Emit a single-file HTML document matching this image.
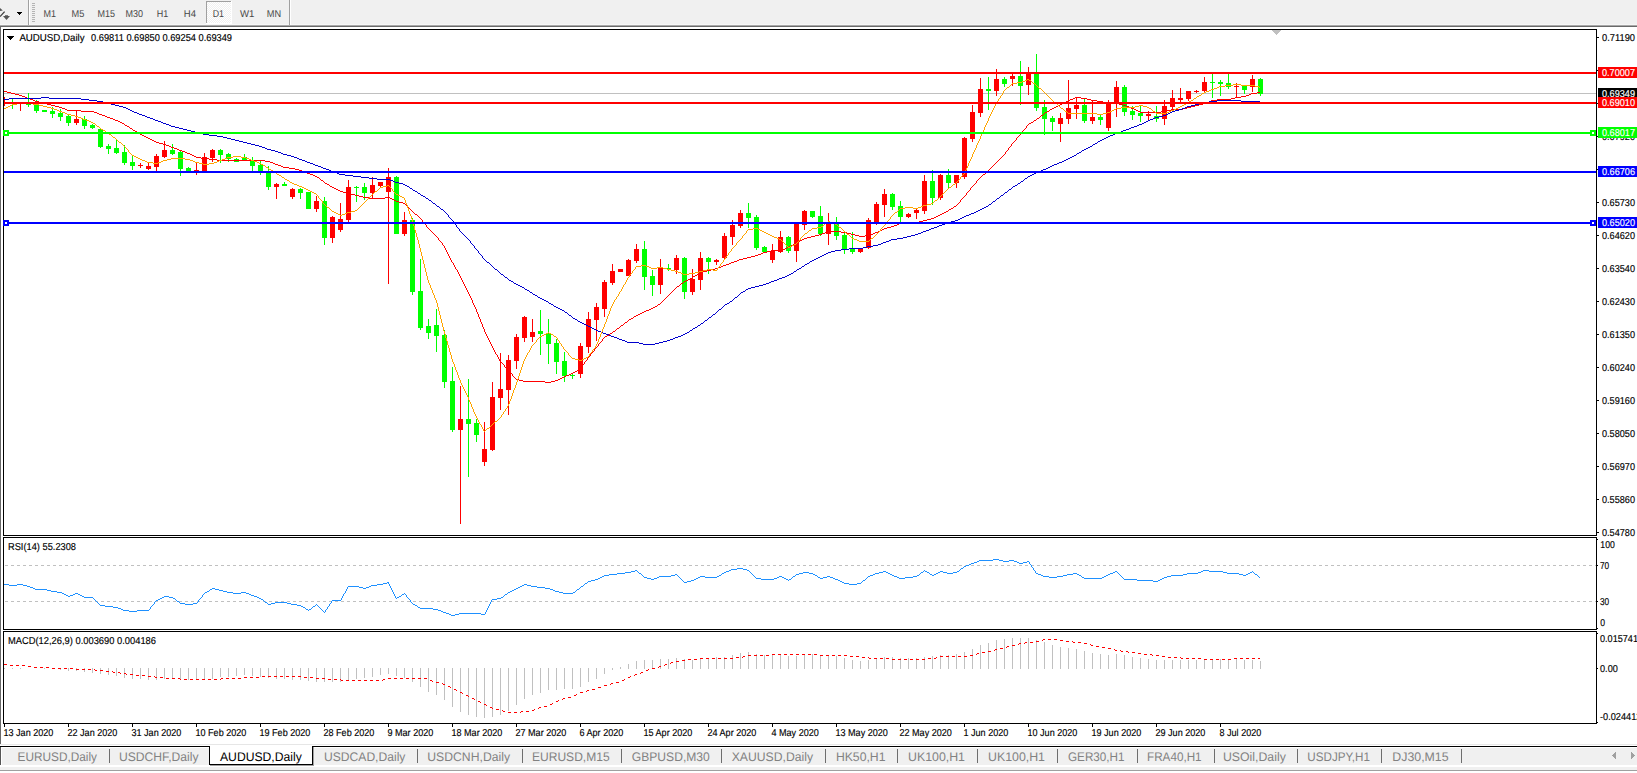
<!DOCTYPE html>
<html><head><meta charset="utf-8"><title>AUDUSD,Daily</title>
<style>html,body{margin:0;padding:0;background:#fff;overflow:hidden}body{width:1637px;height:773px;font-family:"Liberation Sans",sans-serif}svg{display:block}</style></head>
<body>
<svg width="1637" height="773" viewBox="0 0 1637 773" shape-rendering="crispEdges" font-family="'Liberation Sans', sans-serif" text-rendering="geometricPrecision"><defs><clipPath id="cm"><rect x="4" y="30" width="1592" height="505"/></clipPath><pattern id="dz" x="0" y="0" width="2" height="2" patternUnits="userSpaceOnUse"><rect width="2" height="2" fill="#f0f0f0"/><rect x="0" y="0" width="1" height="1" fill="#fff"/><rect x="1" y="1" width="1" height="1" fill="#fff"/></pattern></defs><rect x="0" y="0" width="1637" height="773" fill="#ffffff"/>
<rect x="0" y="0" width="1637" height="25" fill="#f0f0f0"/>
<rect x="0" y="24" width="1637" height="1" fill="#f6f6f6"/>
<rect x="0" y="25" width="1637" height="1" fill="#a8a8a8"/>
<rect x="0" y="26" width="1637" height="1" fill="#696969"/>
<rect x="0" y="27" width="1" height="717" fill="#696969"/>
<rect x="28" y="0" width="1" height="25" fill="#a0a0a0"/>
<rect x="29" y="0" width="1" height="25" fill="#ffffff"/>
<rect x="289" y="0" width="1" height="25" fill="#a0a0a0"/>
<rect x="290" y="0" width="1" height="25" fill="#ffffff"/>
<rect x="32" y="3" width="3" height="1" fill="#b4b4b4"/>
<rect x="32" y="5" width="3" height="1" fill="#b4b4b4"/>
<rect x="32" y="7" width="3" height="1" fill="#b4b4b4"/>
<rect x="32" y="9" width="3" height="1" fill="#b4b4b4"/>
<rect x="32" y="11" width="3" height="1" fill="#b4b4b4"/>
<rect x="32" y="13" width="3" height="1" fill="#b4b4b4"/>
<rect x="32" y="15" width="3" height="1" fill="#b4b4b4"/>
<rect x="32" y="17" width="3" height="1" fill="#b4b4b4"/>
<rect x="32" y="19" width="3" height="1" fill="#b4b4b4"/>
<rect x="32" y="21" width="3" height="1" fill="#b4b4b4"/>
<rect x="17" y="12" width="5" height="1" fill="#000"/>
<rect x="18" y="13" width="3" height="1" fill="#000"/>
<rect x="19" y="14" width="1" height="1" fill="#000"/>
<g shape-rendering="geometricPrecision"><path d="M0 16.6 L4.6 11.6" stroke="#3c3c3c" stroke-width="1.3" fill="none"/><path d="M0 8 L2.8 10.6 L0 10.9 Z" fill="#555"/><path d="M5 15.2 L8 15.2 L8 16 L10 16 L6.5 20 L3 16 L5 16 Z" fill="#555"/></g>
<rect x="207" y="2" width="24" height="21" fill="url(#dz)"/>
<rect x="206" y="1" width="25" height="1" fill="#a0a0a0"/>
<rect x="206" y="1" width="1" height="22" fill="#a0a0a0"/>
<rect x="231" y="1" width="1" height="23" fill="#ffffff"/>
<rect x="206" y="23" width="26" height="1" fill="#ffffff"/>
<g opacity="0.86">
<text x="43.4" y="17" font-size="10" fill="#2a2a2a" textLength="12.5" lengthAdjust="spacingAndGlyphs">M1</text>
<text x="71.5" y="17" font-size="10" fill="#2a2a2a" textLength="12.8" lengthAdjust="spacingAndGlyphs">M5</text>
<text x="97.5" y="17" font-size="10" fill="#2a2a2a" textLength="17.5" lengthAdjust="spacingAndGlyphs">M15</text>
<text x="125.5" y="17" font-size="10" fill="#2a2a2a" textLength="17.5" lengthAdjust="spacingAndGlyphs">M30</text>
<text x="156.7" y="17" font-size="10" fill="#2a2a2a" textLength="11.5" lengthAdjust="spacingAndGlyphs">H1</text>
<text x="183.8" y="17" font-size="10" fill="#2a2a2a" textLength="12.2" lengthAdjust="spacingAndGlyphs">H4</text>
<text x="212.7" y="17" font-size="10" fill="#2a2a2a" textLength="11.3" lengthAdjust="spacingAndGlyphs">D1</text>
<text x="239.9" y="17" font-size="10" fill="#2a2a2a" textLength="14.4" lengthAdjust="spacingAndGlyphs">W1</text>
<text x="266.8" y="17" font-size="10" fill="#2a2a2a" textLength="14.3" lengthAdjust="spacingAndGlyphs">MN</text>
</g>
<rect x="3" y="29" width="1594" height="1" fill="#000"/>
<rect x="3" y="535" width="1594" height="1" fill="#000"/>
<rect x="3" y="29" width="1" height="507" fill="#000"/>
<rect x="1596" y="29" width="1" height="507" fill="#000"/>
<rect x="3" y="537" width="1594" height="1" fill="#000"/>
<rect x="3" y="629" width="1594" height="1" fill="#000"/>
<rect x="3" y="537" width="1" height="93" fill="#000"/>
<rect x="1596" y="537" width="1" height="93" fill="#000"/>
<rect x="3" y="631" width="1594" height="1" fill="#000"/>
<rect x="3" y="723" width="1594" height="1" fill="#000"/>
<rect x="3" y="631" width="1" height="93" fill="#000"/>
<rect x="1596" y="631" width="1" height="93" fill="#000"/>
<g clip-path="url(#cm)">
<rect x="4" y="93" width="1592" height="1" fill="#c0c0c0"/>
<rect x="4" y="97" width="1" height="9" fill="#ff0000"/>
<rect x="12" y="98" width="1" height="11" fill="#00ff00"/>
<rect x="10" y="102" width="5" height="2" fill="#00ff00"/>
<rect x="20" y="103" width="1" height="8" fill="#ff0000"/>
<rect x="18" y="103" width="5" height="1" fill="#ff0000"/>
<rect x="28" y="93" width="1" height="14" fill="#00ff00"/>
<rect x="26" y="104" width="5" height="1" fill="#00ff00"/>
<rect x="36" y="100" width="1" height="13" fill="#00ff00"/>
<rect x="34" y="105" width="5" height="6" fill="#00ff00"/>
<rect x="44" y="110" width="1" height="2" fill="#00ff00"/>
<rect x="42" y="110" width="5" height="2" fill="#00ff00"/>
<rect x="52" y="107" width="1" height="11" fill="#00ff00"/>
<rect x="50" y="111" width="5" height="3" fill="#00ff00"/>
<rect x="60" y="109" width="1" height="12" fill="#00ff00"/>
<rect x="58" y="113" width="5" height="4" fill="#00ff00"/>
<rect x="68" y="115" width="1" height="11" fill="#00ff00"/>
<rect x="66" y="116" width="5" height="7" fill="#00ff00"/>
<rect x="76" y="110" width="1" height="15" fill="#ff0000"/>
<rect x="74" y="119" width="5" height="4" fill="#ff0000"/>
<rect x="84" y="116" width="1" height="13" fill="#00ff00"/>
<rect x="82" y="119" width="5" height="7" fill="#00ff00"/>
<rect x="92" y="124" width="1" height="5" fill="#00ff00"/>
<rect x="90" y="125" width="5" height="3" fill="#00ff00"/>
<rect x="100" y="129" width="1" height="19" fill="#00ff00"/>
<rect x="98" y="129" width="5" height="18" fill="#00ff00"/>
<rect x="108" y="144" width="1" height="10" fill="#00ff00"/>
<rect x="106" y="146" width="5" height="3" fill="#00ff00"/>
<rect x="116" y="140" width="1" height="14" fill="#00ff00"/>
<rect x="114" y="148" width="5" height="5" fill="#00ff00"/>
<rect x="124" y="145" width="1" height="20" fill="#00ff00"/>
<rect x="122" y="152" width="5" height="11" fill="#00ff00"/>
<rect x="132" y="155" width="1" height="15" fill="#00ff00"/>
<rect x="130" y="162" width="5" height="4" fill="#00ff00"/>
<rect x="140" y="163" width="1" height="5" fill="#ff0000"/>
<rect x="138" y="165" width="5" height="1" fill="#ff0000"/>
<rect x="148" y="162" width="1" height="8" fill="#ff0000"/>
<rect x="146" y="166" width="5" height="3" fill="#ff0000"/>
<rect x="156" y="154" width="1" height="17" fill="#ff0000"/>
<rect x="154" y="156" width="5" height="11" fill="#ff0000"/>
<rect x="164" y="141" width="1" height="17" fill="#ff0000"/>
<rect x="162" y="150" width="5" height="7" fill="#ff0000"/>
<rect x="172" y="144" width="1" height="11" fill="#00ff00"/>
<rect x="170" y="150" width="5" height="4" fill="#00ff00"/>
<rect x="180" y="151" width="1" height="25" fill="#00ff00"/>
<rect x="178" y="152" width="5" height="17" fill="#00ff00"/>
<rect x="188" y="167" width="1" height="6" fill="#00ff00"/>
<rect x="186" y="168" width="5" height="5" fill="#00ff00"/>
<rect x="196" y="162" width="1" height="13" fill="#ff0000"/>
<rect x="194" y="170" width="5" height="2" fill="#ff0000"/>
<rect x="204" y="153" width="1" height="19" fill="#ff0000"/>
<rect x="202" y="157" width="5" height="15" fill="#ff0000"/>
<rect x="212" y="149" width="1" height="13" fill="#ff0000"/>
<rect x="210" y="150" width="5" height="8" fill="#ff0000"/>
<rect x="220" y="149" width="1" height="14" fill="#00ff00"/>
<rect x="218" y="150" width="5" height="5" fill="#00ff00"/>
<rect x="228" y="153" width="1" height="9" fill="#00ff00"/>
<rect x="226" y="154" width="5" height="5" fill="#00ff00"/>
<rect x="236" y="158" width="1" height="4" fill="#00ff00"/>
<rect x="234" y="159" width="5" height="3" fill="#00ff00"/>
<rect x="244" y="154" width="1" height="7" fill="#00ff00"/>
<rect x="242" y="157" width="5" height="3" fill="#00ff00"/>
<rect x="252" y="157" width="1" height="14" fill="#00ff00"/>
<rect x="250" y="160" width="5" height="6" fill="#00ff00"/>
<rect x="260" y="161" width="1" height="14" fill="#00ff00"/>
<rect x="258" y="165" width="5" height="6" fill="#00ff00"/>
<rect x="268" y="166" width="1" height="24" fill="#00ff00"/>
<rect x="266" y="173" width="5" height="14" fill="#00ff00"/>
<rect x="276" y="183" width="1" height="16" fill="#ff0000"/>
<rect x="274" y="184" width="5" height="3" fill="#ff0000"/>
<rect x="284" y="182" width="1" height="4" fill="#00ff00"/>
<rect x="282" y="184" width="5" height="2" fill="#00ff00"/>
<rect x="292" y="188" width="1" height="11" fill="#ff0000"/>
<rect x="290" y="189" width="5" height="8" fill="#ff0000"/>
<rect x="300" y="188" width="1" height="11" fill="#00ff00"/>
<rect x="298" y="189" width="5" height="4" fill="#00ff00"/>
<rect x="308" y="192" width="1" height="17" fill="#00ff00"/>
<rect x="306" y="192" width="5" height="17" fill="#00ff00"/>
<rect x="316" y="196" width="1" height="16" fill="#ff0000"/>
<rect x="314" y="201" width="5" height="8" fill="#ff0000"/>
<rect x="324" y="197" width="1" height="48" fill="#00ff00"/>
<rect x="322" y="201" width="5" height="37" fill="#00ff00"/>
<rect x="332" y="216" width="1" height="27" fill="#ff0000"/>
<rect x="330" y="217" width="5" height="21" fill="#ff0000"/>
<rect x="340" y="203" width="1" height="29" fill="#ff0000"/>
<rect x="338" y="219" width="5" height="11" fill="#ff0000"/>
<rect x="348" y="180" width="1" height="42" fill="#ff0000"/>
<rect x="346" y="187" width="5" height="33" fill="#ff0000"/>
<rect x="356" y="186" width="1" height="16" fill="#00ff00"/>
<rect x="354" y="187" width="5" height="1" fill="#00ff00"/>
<rect x="364" y="183" width="1" height="17" fill="#00ff00"/>
<rect x="362" y="187" width="5" height="6" fill="#00ff00"/>
<rect x="372" y="177" width="1" height="22" fill="#ff0000"/>
<rect x="370" y="185" width="5" height="8" fill="#ff0000"/>
<rect x="380" y="182" width="1" height="6" fill="#ff0000"/>
<rect x="378" y="182" width="5" height="4" fill="#ff0000"/>
<rect x="388" y="168" width="1" height="116" fill="#ff0000"/>
<rect x="386" y="177" width="5" height="15" fill="#ff0000"/>
<rect x="396" y="176" width="1" height="58" fill="#00ff00"/>
<rect x="394" y="177" width="5" height="57" fill="#00ff00"/>
<rect x="404" y="212" width="1" height="24" fill="#ff0000"/>
<rect x="402" y="220" width="5" height="14" fill="#ff0000"/>
<rect x="412" y="218" width="1" height="77" fill="#00ff00"/>
<rect x="410" y="220" width="5" height="72" fill="#00ff00"/>
<rect x="420" y="259" width="1" height="71" fill="#00ff00"/>
<rect x="418" y="291" width="5" height="37" fill="#00ff00"/>
<rect x="428" y="319" width="1" height="20" fill="#00ff00"/>
<rect x="426" y="326" width="5" height="7" fill="#00ff00"/>
<rect x="436" y="309" width="1" height="43" fill="#00ff00"/>
<rect x="434" y="325" width="5" height="11" fill="#00ff00"/>
<rect x="444" y="330" width="1" height="58" fill="#00ff00"/>
<rect x="442" y="335" width="5" height="47" fill="#00ff00"/>
<rect x="452" y="367" width="1" height="65" fill="#00ff00"/>
<rect x="450" y="381" width="5" height="49" fill="#00ff00"/>
<rect x="460" y="386" width="1" height="138" fill="#ff0000"/>
<rect x="458" y="419" width="5" height="11" fill="#ff0000"/>
<rect x="468" y="379" width="1" height="98" fill="#00ff00"/>
<rect x="466" y="419" width="5" height="5" fill="#00ff00"/>
<rect x="476" y="419" width="1" height="23" fill="#00ff00"/>
<rect x="474" y="423" width="5" height="12" fill="#00ff00"/>
<rect x="484" y="422" width="1" height="44" fill="#ff0000"/>
<rect x="482" y="449" width="5" height="13" fill="#ff0000"/>
<rect x="492" y="382" width="1" height="69" fill="#ff0000"/>
<rect x="490" y="397" width="5" height="53" fill="#ff0000"/>
<rect x="500" y="353" width="1" height="57" fill="#ff0000"/>
<rect x="498" y="389" width="5" height="9" fill="#ff0000"/>
<rect x="508" y="355" width="1" height="60" fill="#ff0000"/>
<rect x="506" y="360" width="5" height="30" fill="#ff0000"/>
<rect x="516" y="334" width="1" height="35" fill="#ff0000"/>
<rect x="514" y="337" width="5" height="24" fill="#ff0000"/>
<rect x="524" y="316" width="1" height="26" fill="#ff0000"/>
<rect x="522" y="317" width="5" height="21" fill="#ff0000"/>
<rect x="532" y="319" width="1" height="23" fill="#ff0000"/>
<rect x="530" y="332" width="5" height="5" fill="#ff0000"/>
<rect x="540" y="310" width="1" height="45" fill="#00ff00"/>
<rect x="538" y="331" width="5" height="3" fill="#00ff00"/>
<rect x="548" y="319" width="1" height="45" fill="#00ff00"/>
<rect x="546" y="333" width="5" height="11" fill="#00ff00"/>
<rect x="556" y="339" width="1" height="35" fill="#00ff00"/>
<rect x="554" y="343" width="5" height="19" fill="#00ff00"/>
<rect x="564" y="352" width="1" height="30" fill="#00ff00"/>
<rect x="562" y="361" width="5" height="15" fill="#00ff00"/>
<rect x="572" y="374" width="1" height="5" fill="#00ff00"/>
<rect x="570" y="375" width="5" height="1" fill="#00ff00"/>
<rect x="580" y="343" width="1" height="35" fill="#ff0000"/>
<rect x="578" y="346" width="5" height="28" fill="#ff0000"/>
<rect x="588" y="312" width="1" height="41" fill="#ff0000"/>
<rect x="586" y="319" width="5" height="28" fill="#ff0000"/>
<rect x="596" y="303" width="1" height="38" fill="#ff0000"/>
<rect x="594" y="307" width="5" height="13" fill="#ff0000"/>
<rect x="604" y="280" width="1" height="37" fill="#ff0000"/>
<rect x="602" y="282" width="5" height="27" fill="#ff0000"/>
<rect x="612" y="264" width="1" height="21" fill="#ff0000"/>
<rect x="610" y="271" width="5" height="12" fill="#ff0000"/>
<rect x="620" y="269" width="1" height="3" fill="#ff0000"/>
<rect x="618" y="269" width="5" height="3" fill="#ff0000"/>
<rect x="628" y="259" width="1" height="17" fill="#ff0000"/>
<rect x="626" y="260" width="5" height="16" fill="#ff0000"/>
<rect x="636" y="244" width="1" height="19" fill="#ff0000"/>
<rect x="634" y="249" width="5" height="12" fill="#ff0000"/>
<rect x="644" y="241" width="1" height="49" fill="#00ff00"/>
<rect x="642" y="249" width="5" height="28" fill="#00ff00"/>
<rect x="652" y="270" width="1" height="26" fill="#00ff00"/>
<rect x="650" y="276" width="5" height="9" fill="#00ff00"/>
<rect x="660" y="259" width="1" height="35" fill="#ff0000"/>
<rect x="658" y="268" width="5" height="17" fill="#ff0000"/>
<rect x="668" y="264" width="1" height="7" fill="#00ff00"/>
<rect x="666" y="268" width="5" height="1" fill="#00ff00"/>
<rect x="676" y="255" width="1" height="19" fill="#ff0000"/>
<rect x="674" y="258" width="5" height="12" fill="#ff0000"/>
<rect x="684" y="257" width="1" height="42" fill="#00ff00"/>
<rect x="682" y="258" width="5" height="34" fill="#00ff00"/>
<rect x="692" y="269" width="1" height="26" fill="#ff0000"/>
<rect x="690" y="279" width="5" height="13" fill="#ff0000"/>
<rect x="700" y="252" width="1" height="38" fill="#ff0000"/>
<rect x="698" y="258" width="5" height="22" fill="#ff0000"/>
<rect x="708" y="257" width="1" height="17" fill="#00ff00"/>
<rect x="706" y="258" width="5" height="4" fill="#00ff00"/>
<rect x="716" y="259" width="1" height="6" fill="#ff0000"/>
<rect x="714" y="260" width="5" height="2" fill="#ff0000"/>
<rect x="724" y="233" width="1" height="26" fill="#ff0000"/>
<rect x="722" y="236" width="5" height="22" fill="#ff0000"/>
<rect x="732" y="220" width="1" height="25" fill="#ff0000"/>
<rect x="730" y="225" width="5" height="12" fill="#ff0000"/>
<rect x="740" y="210" width="1" height="18" fill="#ff0000"/>
<rect x="738" y="213" width="5" height="13" fill="#ff0000"/>
<rect x="748" y="203" width="1" height="25" fill="#00ff00"/>
<rect x="746" y="213" width="5" height="5" fill="#00ff00"/>
<rect x="756" y="215" width="1" height="35" fill="#00ff00"/>
<rect x="754" y="217" width="5" height="31" fill="#00ff00"/>
<rect x="764" y="246" width="1" height="6" fill="#00ff00"/>
<rect x="762" y="247" width="5" height="5" fill="#00ff00"/>
<rect x="772" y="244" width="1" height="19" fill="#ff0000"/>
<rect x="770" y="251" width="5" height="9" fill="#ff0000"/>
<rect x="780" y="231" width="1" height="22" fill="#ff0000"/>
<rect x="778" y="237" width="5" height="15" fill="#ff0000"/>
<rect x="788" y="236" width="1" height="17" fill="#00ff00"/>
<rect x="786" y="237" width="5" height="14" fill="#00ff00"/>
<rect x="796" y="223" width="1" height="39" fill="#ff0000"/>
<rect x="794" y="224" width="5" height="27" fill="#ff0000"/>
<rect x="804" y="210" width="1" height="20" fill="#ff0000"/>
<rect x="802" y="211" width="5" height="14" fill="#ff0000"/>
<rect x="812" y="211" width="1" height="7" fill="#00ff00"/>
<rect x="810" y="211" width="5" height="6" fill="#00ff00"/>
<rect x="820" y="206" width="1" height="30" fill="#00ff00"/>
<rect x="818" y="216" width="5" height="18" fill="#00ff00"/>
<rect x="828" y="213" width="1" height="32" fill="#ff0000"/>
<rect x="826" y="224" width="5" height="10" fill="#ff0000"/>
<rect x="836" y="217" width="1" height="23" fill="#00ff00"/>
<rect x="834" y="224" width="5" height="12" fill="#00ff00"/>
<rect x="844" y="233" width="1" height="21" fill="#00ff00"/>
<rect x="842" y="235" width="5" height="14" fill="#00ff00"/>
<rect x="852" y="232" width="1" height="22" fill="#00ff00"/>
<rect x="850" y="249" width="5" height="3" fill="#00ff00"/>
<rect x="860" y="248" width="1" height="5" fill="#ff0000"/>
<rect x="858" y="249" width="5" height="3" fill="#ff0000"/>
<rect x="868" y="218" width="1" height="31" fill="#ff0000"/>
<rect x="866" y="220" width="5" height="28" fill="#ff0000"/>
<rect x="876" y="202" width="1" height="23" fill="#ff0000"/>
<rect x="874" y="204" width="5" height="18" fill="#ff0000"/>
<rect x="884" y="189" width="1" height="28" fill="#ff0000"/>
<rect x="882" y="194" width="5" height="11" fill="#ff0000"/>
<rect x="892" y="193" width="1" height="17" fill="#00ff00"/>
<rect x="890" y="194" width="5" height="13" fill="#00ff00"/>
<rect x="900" y="201" width="1" height="21" fill="#00ff00"/>
<rect x="898" y="206" width="5" height="11" fill="#00ff00"/>
<rect x="908" y="213" width="1" height="5" fill="#ff0000"/>
<rect x="906" y="214" width="5" height="3" fill="#ff0000"/>
<rect x="916" y="209" width="1" height="10" fill="#ff0000"/>
<rect x="914" y="210" width="5" height="3" fill="#ff0000"/>
<rect x="924" y="175" width="1" height="39" fill="#ff0000"/>
<rect x="922" y="181" width="5" height="30" fill="#ff0000"/>
<rect x="932" y="170" width="1" height="35" fill="#00ff00"/>
<rect x="930" y="181" width="5" height="17" fill="#00ff00"/>
<rect x="940" y="174" width="1" height="26" fill="#ff0000"/>
<rect x="938" y="175" width="5" height="23" fill="#ff0000"/>
<rect x="948" y="169" width="1" height="20" fill="#00ff00"/>
<rect x="946" y="175" width="5" height="8" fill="#00ff00"/>
<rect x="956" y="175" width="1" height="13" fill="#ff0000"/>
<rect x="954" y="175" width="5" height="8" fill="#ff0000"/>
<rect x="964" y="137" width="1" height="42" fill="#ff0000"/>
<rect x="962" y="138" width="5" height="39" fill="#ff0000"/>
<rect x="972" y="105" width="1" height="37" fill="#ff0000"/>
<rect x="970" y="112" width="5" height="27" fill="#ff0000"/>
<rect x="980" y="78" width="1" height="39" fill="#ff0000"/>
<rect x="978" y="89" width="5" height="24" fill="#ff0000"/>
<rect x="988" y="77" width="1" height="33" fill="#00ff00"/>
<rect x="986" y="89" width="5" height="2" fill="#00ff00"/>
<rect x="996" y="69" width="1" height="27" fill="#ff0000"/>
<rect x="994" y="79" width="5" height="12" fill="#ff0000"/>
<rect x="1004" y="77" width="1" height="10" fill="#00ff00"/>
<rect x="1002" y="79" width="5" height="5" fill="#00ff00"/>
<rect x="1012" y="74" width="1" height="12" fill="#ff0000"/>
<rect x="1010" y="76" width="5" height="3" fill="#ff0000"/>
<rect x="1020" y="61" width="1" height="44" fill="#00ff00"/>
<rect x="1018" y="76" width="5" height="10" fill="#00ff00"/>
<rect x="1028" y="67" width="1" height="28" fill="#ff0000"/>
<rect x="1026" y="74" width="5" height="11" fill="#ff0000"/>
<rect x="1036" y="54" width="1" height="57" fill="#00ff00"/>
<rect x="1034" y="74" width="5" height="34" fill="#00ff00"/>
<rect x="1044" y="100" width="1" height="35" fill="#00ff00"/>
<rect x="1042" y="107" width="5" height="12" fill="#00ff00"/>
<rect x="1052" y="116" width="1" height="15" fill="#00ff00"/>
<rect x="1050" y="118" width="5" height="4" fill="#00ff00"/>
<rect x="1060" y="113" width="1" height="29" fill="#ff0000"/>
<rect x="1058" y="118" width="5" height="6" fill="#ff0000"/>
<rect x="1068" y="80" width="1" height="44" fill="#ff0000"/>
<rect x="1066" y="108" width="5" height="11" fill="#ff0000"/>
<rect x="1076" y="97" width="1" height="22" fill="#ff0000"/>
<rect x="1074" y="105" width="5" height="4" fill="#ff0000"/>
<rect x="1084" y="99" width="1" height="24" fill="#00ff00"/>
<rect x="1082" y="105" width="5" height="16" fill="#00ff00"/>
<rect x="1092" y="100" width="1" height="24" fill="#ff0000"/>
<rect x="1090" y="117" width="5" height="4" fill="#ff0000"/>
<rect x="1100" y="115" width="1" height="10" fill="#00ff00"/>
<rect x="1098" y="117" width="5" height="3" fill="#00ff00"/>
<rect x="1108" y="100" width="1" height="31" fill="#ff0000"/>
<rect x="1106" y="102" width="5" height="26" fill="#ff0000"/>
<rect x="1116" y="81" width="1" height="36" fill="#ff0000"/>
<rect x="1114" y="87" width="5" height="16" fill="#ff0000"/>
<rect x="1124" y="85" width="1" height="31" fill="#00ff00"/>
<rect x="1122" y="87" width="5" height="25" fill="#00ff00"/>
<rect x="1132" y="106" width="1" height="14" fill="#00ff00"/>
<rect x="1130" y="111" width="5" height="4" fill="#00ff00"/>
<rect x="1140" y="105" width="1" height="17" fill="#00ff00"/>
<rect x="1138" y="113" width="5" height="3" fill="#00ff00"/>
<rect x="1148" y="111" width="1" height="9" fill="#ff0000"/>
<rect x="1146" y="114" width="5" height="2" fill="#ff0000"/>
<rect x="1156" y="106" width="1" height="16" fill="#00ff00"/>
<rect x="1154" y="116" width="5" height="3" fill="#00ff00"/>
<rect x="1164" y="100" width="1" height="25" fill="#ff0000"/>
<rect x="1162" y="106" width="5" height="13" fill="#ff0000"/>
<rect x="1172" y="90" width="1" height="20" fill="#ff0000"/>
<rect x="1170" y="98" width="5" height="9" fill="#ff0000"/>
<rect x="1180" y="88" width="1" height="14" fill="#ff0000"/>
<rect x="1178" y="98" width="5" height="2" fill="#ff0000"/>
<rect x="1188" y="91" width="1" height="10" fill="#ff0000"/>
<rect x="1186" y="91" width="5" height="8" fill="#ff0000"/>
<rect x="1196" y="90" width="1" height="3" fill="#ff0000"/>
<rect x="1194" y="91" width="5" height="1" fill="#ff0000"/>
<rect x="1204" y="77" width="1" height="15" fill="#ff0000"/>
<rect x="1202" y="82" width="5" height="9" fill="#ff0000"/>
<rect x="1212" y="74" width="1" height="24" fill="#00ff00"/>
<rect x="1210" y="82" width="5" height="1" fill="#00ff00"/>
<rect x="1220" y="80" width="1" height="16" fill="#00ff00"/>
<rect x="1218" y="82" width="5" height="2" fill="#00ff00"/>
<rect x="1228" y="74" width="1" height="15" fill="#00ff00"/>
<rect x="1226" y="83" width="5" height="4" fill="#00ff00"/>
<rect x="1236" y="83" width="1" height="15" fill="#ff0000"/>
<rect x="1234" y="86" width="5" height="1" fill="#ff0000"/>
<rect x="1244" y="86" width="1" height="8" fill="#00ff00"/>
<rect x="1242" y="86" width="5" height="4" fill="#00ff00"/>
<rect x="1252" y="75" width="1" height="17" fill="#ff0000"/>
<rect x="1250" y="79" width="5" height="8" fill="#ff0000"/>
<rect x="1260" y="78" width="1" height="18" fill="#00ff00"/>
<rect x="1258" y="79" width="5" height="15" fill="#00ff00"/>
<path d="M4 91h3v1h-3zM7 92h4v1h-4zM1257 92h3v1h-3zM11 93h4v1h-4zM1251 93h6v1h-6zM15 94h4v1h-4zM1249 94h2v1h-2zM19 95h3v1h-3zM1246 95h3v1h-3zM22 96h3v1h-3zM1241 96h5v1h-5zM25 97h2v1h-2zM1075 97h6v1h-6zM1235 97h6v1h-6zM27 98h3v1h-3zM1073 98h2v1h-2zM1081 98h6v1h-6zM1231 98h4v1h-4zM30 99h3v1h-3zM1070 99h3v1h-3zM1087 99h4v1h-4zM1217 99h14v1h-14zM33 100h2v1h-2zM1068 100h2v1h-2zM1091 100h6v1h-6zM1211 100h6v1h-6zM35 101h4v1h-4zM1066 101h2v1h-2zM1097 101h6v1h-6zM1209 101h2v1h-2zM39 102h4v1h-4zM1064 102h2v1h-2zM1103 102h4v1h-4zM1206 102h3v1h-3zM43 103h4v1h-4zM1062 103h2v1h-2zM1107 103h12v1h-12zM1203 103h3v1h-3zM47 104h4v1h-4zM1060 104h2v1h-2zM1119 104h4v1h-4zM1199 104h4v1h-4zM51 105h4v1h-4zM1058 105h2v1h-2zM1123 105h3v1h-3zM1195 105h4v1h-4zM55 106h4v1h-4zM1056 106h2v1h-2zM1126 106h3v1h-3zM1191 106h4v1h-4zM59 107h3v1h-3zM1054 107h2v1h-2zM1129 107h2v1h-2zM1187 107h4v1h-4zM62 108h3v1h-3zM1052 108h2v1h-2zM1131 108h3v1h-3zM1183 108h4v1h-4zM65 109h2v1h-2zM1050 109h2v1h-2zM1134 109h2v1h-2zM1171 109h12v1h-12zM67 110h14v1h-14zM1049 110h1v1h-1zM1136 110h2v1h-2zM1167 110h4v1h-4zM81 111h13v1h-13zM1047 111h2v1h-2zM1138 111h2v1h-2zM1161 111h6v1h-6zM94 112h3v1h-3zM1045 112h2v1h-2zM1140 112h21v1h-21zM97 113h2v1h-2zM1044 113h1v1h-1zM99 114h3v1h-3zM1043 114h1v1h-1zM102 115h3v1h-3zM1041 115h2v1h-2zM105 116h2v1h-2zM1040 116h1v1h-1zM107 117h3v1h-3zM1039 117h1v1h-1zM110 118h3v1h-3zM1037 118h2v1h-2zM113 119h2v1h-2zM1036 119h1v1h-1zM115 120h3v1h-3zM1034 120h2v1h-2zM118 121h2v1h-2zM1033 121h1v1h-1zM120 122h2v1h-2zM1031 122h2v1h-2zM122 123h2v1h-2zM1029 123h2v1h-2zM124 124h1v1h-1zM1028 124h1v1h-1zM125 125h2v1h-2zM1027 125h1v1h-1zM127 126h2v1h-2zM1026 126h1v1h-1zM129 127h1v1h-1zM1026 127h1v1h-1zM130 128h2v1h-2zM1025 128h1v1h-1zM132 129h1v1h-1zM1024 129h1v1h-1zM133 130h2v1h-2zM1023 130h1v1h-1zM135 131h2v1h-2zM1022 131h1v1h-1zM137 132h1v1h-1zM1022 132h1v1h-1zM138 133h2v1h-2zM1021 133h1v1h-1zM140 134h2v1h-2zM1020 134h1v1h-1zM142 135h2v1h-2zM1019 135h1v1h-1zM144 136h2v1h-2zM1018 136h1v1h-1zM146 137h2v1h-2zM1017 137h1v1h-1zM148 138h2v1h-2zM1016 138h1v1h-1zM150 139h2v1h-2zM1016 139h1v1h-1zM152 140h2v1h-2zM1015 140h1v1h-1zM154 141h2v1h-2zM1014 141h1v1h-1zM156 142h3v1h-3zM1013 142h1v1h-1zM159 143h4v1h-4zM1012 143h1v1h-1zM163 144h3v1h-3zM1011 144h1v1h-1zM166 145h3v1h-3zM1011 145h1v1h-1zM169 146h2v1h-2zM1010 146h1v1h-1zM171 147h3v1h-3zM1009 147h1v1h-1zM174 148h3v1h-3zM1008 148h1v1h-1zM177 149h2v1h-2zM1008 149h1v1h-1zM179 150h3v1h-3zM1007 150h1v1h-1zM182 151h3v1h-3zM1006 151h1v1h-1zM185 152h2v1h-2zM1005 152h1v1h-1zM187 153h3v1h-3zM1005 153h1v1h-1zM190 154h2v1h-2zM1004 154h1v1h-1zM192 155h2v1h-2zM1003 155h1v1h-1zM194 156h2v1h-2zM1002 156h1v1h-1zM196 157h5v1h-5zM1001 157h1v1h-1zM201 158h8v1h-8zM1000 158h1v1h-1zM209 159h8v1h-8zM999 159h1v1h-1zM217 160h48v1h-48zM998 160h1v1h-1zM265 161h5v1h-5zM997 161h1v1h-1zM270 162h3v1h-3zM996 162h1v1h-1zM273 163h2v1h-2zM995 163h1v1h-1zM275 164h3v1h-3zM994 164h1v1h-1zM278 165h3v1h-3zM993 165h1v1h-1zM281 166h2v1h-2zM992 166h1v1h-1zM283 167h6v1h-6zM991 167h1v1h-1zM289 168h6v1h-6zM990 168h1v1h-1zM295 169h4v1h-4zM989 169h1v1h-1zM299 170h3v1h-3zM988 170h1v1h-1zM302 171h3v1h-3zM987 171h1v1h-1zM305 172h2v1h-2zM986 172h1v1h-1zM307 173h3v1h-3zM985 173h1v1h-1zM310 174h3v1h-3zM983 174h2v1h-2zM313 175h2v1h-2zM982 175h1v1h-1zM315 176h2v1h-2zM981 176h1v1h-1zM317 177h2v1h-2zM980 177h1v1h-1zM319 178h1v1h-1zM979 178h1v1h-1zM320 179h1v1h-1zM978 179h1v1h-1zM321 180h2v1h-2zM977 180h1v1h-1zM323 181h1v1h-1zM976 181h1v1h-1zM324 182h1v1h-1zM976 182h1v1h-1zM325 183h2v1h-2zM975 183h1v1h-1zM327 184h2v1h-2zM974 184h1v1h-1zM329 185h1v1h-1zM973 185h1v1h-1zM330 186h2v1h-2zM972 186h1v1h-1zM332 187h2v1h-2zM971 187h1v1h-1zM334 188h2v1h-2zM970 188h1v1h-1zM336 189h2v1h-2zM970 189h1v1h-1zM338 190h2v1h-2zM969 190h1v1h-1zM340 191h3v1h-3zM968 191h1v1h-1zM343 192h4v1h-4zM967 192h1v1h-1zM347 193h4v1h-4zM966 193h1v1h-1zM351 194h4v1h-4zM966 194h1v1h-1zM355 195h4v1h-4zM965 195h1v1h-1zM359 196h4v1h-4zM964 196h1v1h-1zM363 197h6v1h-6zM385 197h5v1h-5zM963 197h1v1h-1zM369 198h16v1h-16zM390 198h2v1h-2zM962 198h1v1h-1zM392 199h2v1h-2zM961 199h1v1h-1zM394 200h2v1h-2zM960 200h1v1h-1zM396 201h3v1h-3zM960 201h1v1h-1zM399 202h4v1h-4zM959 202h1v1h-1zM403 203h2v1h-2zM958 203h1v1h-1zM405 204h1v1h-1zM957 204h1v1h-1zM406 205h1v1h-1zM956 205h1v1h-1zM407 206h1v1h-1zM954 206h2v1h-2zM408 207h1v1h-1zM953 207h1v1h-1zM409 208h1v1h-1zM951 208h2v1h-2zM410 209h1v1h-1zM949 209h2v1h-2zM411 210h1v1h-1zM948 210h1v1h-1zM412 211h1v1h-1zM946 211h2v1h-2zM413 212h1v1h-1zM944 212h2v1h-2zM414 213h1v1h-1zM942 213h2v1h-2zM415 214h2v1h-2zM940 214h2v1h-2zM417 215h1v1h-1zM938 215h2v1h-2zM418 216h1v1h-1zM936 216h2v1h-2zM419 217h1v1h-1zM934 217h2v1h-2zM420 218h1v1h-1zM931 218h3v1h-3zM421 219h1v1h-1zM927 219h4v1h-4zM422 220h1v1h-1zM923 220h4v1h-4zM422 221h1v1h-1zM919 221h4v1h-4zM423 222h1v1h-1zM905 222h14v1h-14zM424 223h1v1h-1zM899 223h6v1h-6zM425 224h1v1h-1zM897 224h2v1h-2zM426 225h1v1h-1zM894 225h3v1h-3zM426 226h1v1h-1zM891 226h3v1h-3zM427 227h1v1h-1zM887 227h4v1h-4zM428 228h1v1h-1zM884 228h3v1h-3zM429 229h1v1h-1zM882 229h2v1h-2zM430 230h1v1h-1zM880 230h2v1h-2zM431 231h1v1h-1zM827 231h14v1h-14zM878 231h2v1h-2zM432 232h1v1h-1zM825 232h2v1h-2zM841 232h6v1h-6zM875 232h3v1h-3zM433 233h1v1h-1zM822 233h3v1h-3zM847 233h4v1h-4zM873 233h2v1h-2zM434 234h1v1h-1zM819 234h3v1h-3zM851 234h4v1h-4zM870 234h3v1h-3zM435 235h1v1h-1zM815 235h4v1h-4zM855 235h4v1h-4zM865 235h5v1h-5zM436 236h1v1h-1zM811 236h4v1h-4zM859 236h6v1h-6zM437 237h1v1h-1zM807 237h4v1h-4zM438 238h1v1h-1zM804 238h3v1h-3zM438 239h1v1h-1zM802 239h2v1h-2zM439 240h1v1h-1zM800 240h2v1h-2zM440 241h1v1h-1zM798 241h2v1h-2zM441 242h1v1h-1zM796 242h2v1h-2zM442 243h1v1h-1zM794 243h2v1h-2zM442 244h1v1h-1zM793 244h1v1h-1zM443 245h1v1h-1zM791 245h2v1h-2zM444 246h1v1h-1zM789 246h2v1h-2zM444 247h1v1h-1zM787 247h2v1h-2zM445 248h1v1h-1zM785 248h2v1h-2zM445 249h1v1h-1zM782 249h3v1h-3zM446 250h1v1h-1zM771 250h11v1h-11zM446 251h1v1h-1zM767 251h4v1h-4zM447 252h1v1h-1zM763 252h4v1h-4zM447 253h1v1h-1zM761 253h2v1h-2zM448 254h1v1h-1zM758 254h3v1h-3zM448 255h1v1h-1zM755 255h3v1h-3zM449 256h1v1h-1zM751 256h4v1h-4zM449 257h1v1h-1zM747 257h4v1h-4zM450 258h1v1h-1zM743 258h4v1h-4zM450 259h1v1h-1zM739 259h4v1h-4zM451 260h1v1h-1zM737 260h2v1h-2zM451 261h1v1h-1zM734 261h3v1h-3zM452 262h1v1h-1zM731 262h3v1h-3zM453 263h1v1h-1zM729 263h2v1h-2zM453 264h1v1h-1zM726 264h3v1h-3zM454 265h1v1h-1zM723 265h3v1h-3zM454 266h1v1h-1zM721 266h2v1h-2zM455 267h1v1h-1zM718 267h3v1h-3zM455 268h1v1h-1zM715 268h3v1h-3zM456 269h1v1h-1zM711 269h4v1h-4zM457 270h1v1h-1zM707 270h4v1h-4zM457 271h1v1h-1zM703 271h4v1h-4zM458 272h1v1h-1zM700 272h3v1h-3zM458 273h1v1h-1zM698 273h2v1h-2zM459 274h1v1h-1zM697 274h1v1h-1zM459 275h1v1h-1zM695 275h2v1h-2zM460 276h1v1h-1zM693 276h2v1h-2zM460 277h1v1h-1zM692 277h1v1h-1zM461 278h1v1h-1zM690 278h2v1h-2zM461 279h1v1h-1zM688 279h2v1h-2zM462 280h1v1h-1zM686 280h2v1h-2zM462 281h1v1h-1zM684 281h2v1h-2zM463 282h1v1h-1zM683 282h1v1h-1zM463 283h1v1h-1zM681 283h2v1h-2zM464 284h1v1h-1zM680 284h1v1h-1zM464 285h1v1h-1zM679 285h1v1h-1zM465 286h1v1h-1zM677 286h2v1h-2zM465 287h1v1h-1zM676 287h1v1h-1zM466 288h1v1h-1zM675 288h1v1h-1zM466 289h1v1h-1zM674 289h1v1h-1zM467 290h1v1h-1zM673 290h1v1h-1zM467 291h1v1h-1zM672 291h1v1h-1zM468 292h1v1h-1zM671 292h1v1h-1zM468 293h1v1h-1zM670 293h1v1h-1zM469 294h1v1h-1zM669 294h1v1h-1zM469 295h1v1h-1zM668 295h1v1h-1zM470 296h1v1h-1zM667 296h1v1h-1zM470 297h1v1h-1zM666 297h1v1h-1zM471 298h1v1h-1zM665 298h1v1h-1zM471 299h1v1h-1zM664 299h1v1h-1zM472 300h1v1h-1zM663 300h1v1h-1zM472 301h1v1h-1zM662 301h1v1h-1zM472 302h1v1h-1zM661 302h1v1h-1zM473 303h1v1h-1zM660 303h1v1h-1zM473 304h1v1h-1zM658 304h2v1h-2zM474 305h1v1h-1zM657 305h1v1h-1zM474 306h1v1h-1zM655 306h2v1h-2zM475 307h1v1h-1zM653 307h2v1h-2zM475 308h1v1h-1zM651 308h2v1h-2zM476 309h1v1h-1zM649 309h2v1h-2zM476 310h1v1h-1zM646 310h3v1h-3zM476 311h1v1h-1zM644 311h2v1h-2zM477 312h1v1h-1zM642 312h2v1h-2zM477 313h1v1h-1zM640 313h2v1h-2zM478 314h1v1h-1zM638 314h2v1h-2zM478 315h1v1h-1zM636 315h2v1h-2zM478 316h1v1h-1zM634 316h2v1h-2zM479 317h1v1h-1zM633 317h1v1h-1zM479 318h1v1h-1zM631 318h2v1h-2zM480 319h1v1h-1zM629 319h2v1h-2zM480 320h1v1h-1zM628 320h1v1h-1zM480 321h1v1h-1zM627 321h1v1h-1zM481 322h1v1h-1zM625 322h2v1h-2zM481 323h1v1h-1zM624 323h1v1h-1zM482 324h1v1h-1zM623 324h1v1h-1zM482 325h1v1h-1zM621 325h2v1h-2zM482 326h1v1h-1zM620 326h1v1h-1zM483 327h1v1h-1zM619 327h1v1h-1zM483 328h1v1h-1zM617 328h2v1h-2zM484 329h1v1h-1zM616 329h1v1h-1zM484 330h1v1h-1zM615 330h1v1h-1zM484 331h1v1h-1zM613 331h2v1h-2zM485 332h1v1h-1zM612 332h1v1h-1zM485 333h1v1h-1zM610 333h2v1h-2zM486 334h1v1h-1zM609 334h1v1h-1zM486 335h1v1h-1zM607 335h2v1h-2zM487 336h1v1h-1zM605 336h2v1h-2zM487 337h1v1h-1zM604 337h1v1h-1zM488 338h1v1h-1zM603 338h1v1h-1zM488 339h1v1h-1zM602 339h1v1h-1zM489 340h1v1h-1zM602 340h1v1h-1zM489 341h1v1h-1zM601 341h1v1h-1zM490 342h1v1h-1zM600 342h1v1h-1zM490 343h1v1h-1zM599 343h1v1h-1zM491 344h1v1h-1zM598 344h1v1h-1zM491 345h1v1h-1zM598 345h1v1h-1zM492 346h1v1h-1zM597 346h1v1h-1zM492 347h1v1h-1zM596 347h1v1h-1zM493 348h1v1h-1zM595 348h1v1h-1zM493 349h1v1h-1zM594 349h1v1h-1zM494 350h1v1h-1zM594 350h1v1h-1zM494 351h1v1h-1zM593 351h1v1h-1zM495 352h1v1h-1zM592 352h1v1h-1zM495 353h1v1h-1zM591 353h1v1h-1zM496 354h1v1h-1zM590 354h1v1h-1zM497 355h1v1h-1zM590 355h1v1h-1zM497 356h1v1h-1zM589 356h1v1h-1zM498 357h1v1h-1zM588 357h1v1h-1zM498 358h1v1h-1zM587 358h1v1h-1zM499 359h1v1h-1zM587 359h1v1h-1zM499 360h1v1h-1zM586 360h1v1h-1zM500 361h1v1h-1zM585 361h1v1h-1zM501 362h1v1h-1zM584 362h1v1h-1zM502 363h1v1h-1zM584 363h1v1h-1zM503 364h1v1h-1zM583 364h1v1h-1zM504 365h1v1h-1zM582 365h1v1h-1zM504 366h1v1h-1zM581 366h1v1h-1zM505 367h1v1h-1zM581 367h1v1h-1zM506 368h1v1h-1zM580 368h1v1h-1zM507 369h1v1h-1zM578 369h2v1h-2zM508 370h1v1h-1zM577 370h1v1h-1zM509 371h1v1h-1zM575 371h2v1h-2zM510 372h1v1h-1zM573 372h2v1h-2zM511 373h1v1h-1zM571 373h2v1h-2zM512 374h1v1h-1zM569 374h2v1h-2zM512 375h1v1h-1zM566 375h3v1h-3zM513 376h1v1h-1zM564 376h2v1h-2zM514 377h1v1h-1zM562 377h2v1h-2zM515 378h1v1h-1zM560 378h2v1h-2zM516 379h3v1h-3zM558 379h2v1h-2zM519 380h4v1h-4zM555 380h3v1h-3zM523 381h22v1h-22zM551 381h4v1h-4zM545 382h6v1h-6z" fill="#ff0000"/>
<path d="M41 97h8v1h-8zM9 98h32v1h-32zM49 98h32v1h-32zM4 99h5v1h-5zM81 99h8v1h-8zM89 100h8v1h-8zM1217 100h24v1h-24zM97 101h6v1h-6zM1209 101h8v1h-8zM1241 101h19v1h-19zM103 102h4v1h-4zM1203 102h6v1h-6zM107 103h4v1h-4zM1199 103h4v1h-4zM111 104h4v1h-4zM1195 104h4v1h-4zM115 105h4v1h-4zM1191 105h4v1h-4zM119 106h4v1h-4zM1187 106h4v1h-4zM123 107h3v1h-3zM1185 107h2v1h-2zM126 108h2v1h-2zM1182 108h3v1h-3zM128 109h2v1h-2zM1179 109h3v1h-3zM130 110h2v1h-2zM1175 110h4v1h-4zM132 111h2v1h-2zM1172 111h3v1h-3zM134 112h3v1h-3zM1170 112h2v1h-2zM137 113h2v1h-2zM1168 113h2v1h-2zM139 114h3v1h-3zM1166 114h2v1h-2zM142 115h3v1h-3zM1163 115h3v1h-3zM145 116h2v1h-2zM1159 116h4v1h-4zM147 117h3v1h-3zM1155 117h4v1h-4zM150 118h3v1h-3zM1153 118h2v1h-2zM153 119h2v1h-2zM1150 119h3v1h-3zM155 120h3v1h-3zM1148 120h2v1h-2zM158 121h3v1h-3zM1146 121h2v1h-2zM161 122h2v1h-2zM1144 122h2v1h-2zM163 123h3v1h-3zM1142 123h2v1h-2zM166 124h3v1h-3zM1139 124h3v1h-3zM169 125h2v1h-2zM1137 125h2v1h-2zM171 126h4v1h-4zM1134 126h3v1h-3zM175 127h4v1h-4zM1131 127h3v1h-3zM179 128h4v1h-4zM1129 128h2v1h-2zM183 129h4v1h-4zM1126 129h3v1h-3zM187 130h4v1h-4zM1123 130h3v1h-3zM191 131h4v1h-4zM1121 131h2v1h-2zM195 132h4v1h-4zM1118 132h3v1h-3zM199 133h4v1h-4zM1115 133h3v1h-3zM203 134h6v1h-6zM1113 134h2v1h-2zM209 135h8v1h-8zM1110 135h3v1h-3zM217 136h6v1h-6zM1108 136h2v1h-2zM223 137h4v1h-4zM1106 137h2v1h-2zM227 138h4v1h-4zM1104 138h2v1h-2zM231 139h4v1h-4zM1102 139h2v1h-2zM235 140h4v1h-4zM1100 140h2v1h-2zM239 141h4v1h-4zM1098 141h2v1h-2zM243 142h4v1h-4zM1097 142h1v1h-1zM247 143h4v1h-4zM1095 143h2v1h-2zM251 144h4v1h-4zM1093 144h2v1h-2zM255 145h4v1h-4zM1092 145h1v1h-1zM259 146h3v1h-3zM1090 146h2v1h-2zM262 147h3v1h-3zM1088 147h2v1h-2zM265 148h2v1h-2zM1086 148h2v1h-2zM267 149h4v1h-4zM1084 149h2v1h-2zM271 150h4v1h-4zM1082 150h2v1h-2zM275 151h3v1h-3zM1081 151h1v1h-1zM278 152h3v1h-3zM1079 152h2v1h-2zM281 153h2v1h-2zM1077 153h2v1h-2zM283 154h4v1h-4zM1076 154h1v1h-1zM287 155h4v1h-4zM1074 155h2v1h-2zM291 156h3v1h-3zM1072 156h2v1h-2zM294 157h3v1h-3zM1070 157h2v1h-2zM297 158h2v1h-2zM1068 158h2v1h-2zM299 159h3v1h-3zM1066 159h2v1h-2zM302 160h3v1h-3zM1064 160h2v1h-2zM305 161h2v1h-2zM1062 161h2v1h-2zM307 162h3v1h-3zM1059 162h3v1h-3zM310 163h3v1h-3zM1057 163h2v1h-2zM313 164h2v1h-2zM1054 164h3v1h-3zM315 165h3v1h-3zM1052 165h2v1h-2zM318 166h3v1h-3zM1050 166h2v1h-2zM321 167h2v1h-2zM1048 167h2v1h-2zM323 168h3v1h-3zM1046 168h2v1h-2zM326 169h3v1h-3zM1043 169h3v1h-3zM329 170h2v1h-2zM1041 170h2v1h-2zM331 171h3v1h-3zM1038 171h3v1h-3zM334 172h3v1h-3zM1036 172h2v1h-2zM337 173h2v1h-2zM1034 173h2v1h-2zM339 174h6v1h-6zM1032 174h2v1h-2zM345 175h8v1h-8zM1030 175h2v1h-2zM353 176h8v1h-8zM1028 176h2v1h-2zM361 177h8v1h-8zM1027 177h1v1h-1zM369 178h8v1h-8zM1025 178h2v1h-2zM377 179h13v1h-13zM1024 179h1v1h-1zM390 180h3v1h-3zM1023 180h1v1h-1zM393 181h2v1h-2zM1021 181h2v1h-2zM395 182h4v1h-4zM1020 182h1v1h-1zM399 183h4v1h-4zM1018 183h2v1h-2zM403 184h2v1h-2zM1017 184h1v1h-1zM405 185h2v1h-2zM1015 185h2v1h-2zM407 186h2v1h-2zM1013 186h2v1h-2zM409 187h1v1h-1zM1012 187h1v1h-1zM410 188h2v1h-2zM1011 188h1v1h-1zM412 189h1v1h-1zM1009 189h2v1h-2zM413 190h2v1h-2zM1008 190h1v1h-1zM415 191h2v1h-2zM1007 191h1v1h-1zM417 192h1v1h-1zM1005 192h2v1h-2zM418 193h2v1h-2zM1004 193h1v1h-1zM420 194h1v1h-1zM1003 194h1v1h-1zM421 195h2v1h-2zM1001 195h2v1h-2zM423 196h2v1h-2zM1000 196h1v1h-1zM425 197h1v1h-1zM999 197h1v1h-1zM426 198h2v1h-2zM997 198h2v1h-2zM428 199h1v1h-1zM996 199h1v1h-1zM429 200h2v1h-2zM995 200h1v1h-1zM431 201h1v1h-1zM993 201h2v1h-2zM432 202h1v1h-1zM992 202h1v1h-1zM433 203h2v1h-2zM991 203h1v1h-1zM435 204h1v1h-1zM989 204h2v1h-2zM436 205h1v1h-1zM988 205h1v1h-1zM437 206h2v1h-2zM986 206h2v1h-2zM439 207h1v1h-1zM984 207h2v1h-2zM440 208h1v1h-1zM982 208h2v1h-2zM441 209h2v1h-2zM980 209h2v1h-2zM443 210h1v1h-1zM978 210h2v1h-2zM444 211h1v1h-1zM976 211h2v1h-2zM445 212h1v1h-1zM974 212h2v1h-2zM446 213h1v1h-1zM971 213h3v1h-3zM447 214h1v1h-1zM969 214h2v1h-2zM448 215h1v1h-1zM966 215h3v1h-3zM448 216h1v1h-1zM964 216h2v1h-2zM449 217h1v1h-1zM962 217h2v1h-2zM450 218h1v1h-1zM960 218h2v1h-2zM451 219h1v1h-1zM958 219h2v1h-2zM452 220h1v1h-1zM955 220h3v1h-3zM453 221h1v1h-1zM951 221h4v1h-4zM453 222h1v1h-1zM947 222h4v1h-4zM454 223h1v1h-1zM945 223h2v1h-2zM455 224h1v1h-1zM942 224h3v1h-3zM456 225h1v1h-1zM939 225h3v1h-3zM456 226h1v1h-1zM937 226h2v1h-2zM457 227h1v1h-1zM934 227h3v1h-3zM458 228h1v1h-1zM931 228h3v1h-3zM459 229h1v1h-1zM929 229h2v1h-2zM459 230h1v1h-1zM926 230h3v1h-3zM460 231h1v1h-1zM923 231h3v1h-3zM461 232h1v1h-1zM921 232h2v1h-2zM462 233h1v1h-1zM918 233h3v1h-3zM463 234h1v1h-1zM915 234h3v1h-3zM464 235h1v1h-1zM911 235h4v1h-4zM465 236h1v1h-1zM907 236h4v1h-4zM466 237h1v1h-1zM903 237h4v1h-4zM467 238h1v1h-1zM897 238h6v1h-6zM468 239h1v1h-1zM891 239h6v1h-6zM469 240h1v1h-1zM889 240h2v1h-2zM470 241h1v1h-1zM886 241h3v1h-3zM470 242h1v1h-1zM883 242h3v1h-3zM471 243h1v1h-1zM881 243h2v1h-2zM472 244h1v1h-1zM878 244h3v1h-3zM473 245h1v1h-1zM873 245h5v1h-5zM474 246h1v1h-1zM867 246h6v1h-6zM474 247h1v1h-1zM863 247h4v1h-4zM475 248h1v1h-1zM849 248h14v1h-14zM476 249h1v1h-1zM841 249h8v1h-8zM477 250h1v1h-1zM835 250h6v1h-6zM478 251h1v1h-1zM831 251h4v1h-4zM478 252h1v1h-1zM828 252h3v1h-3zM479 253h1v1h-1zM826 253h2v1h-2zM480 254h1v1h-1zM824 254h2v1h-2zM481 255h1v1h-1zM822 255h2v1h-2zM482 256h1v1h-1zM820 256h2v1h-2zM482 257h1v1h-1zM818 257h2v1h-2zM483 258h1v1h-1zM816 258h2v1h-2zM484 259h1v1h-1zM814 259h2v1h-2zM485 260h1v1h-1zM812 260h2v1h-2zM486 261h1v1h-1zM810 261h2v1h-2zM487 262h2v1h-2zM809 262h1v1h-1zM489 263h1v1h-1zM807 263h2v1h-2zM490 264h1v1h-1zM805 264h2v1h-2zM491 265h1v1h-1zM804 265h1v1h-1zM492 266h1v1h-1zM802 266h2v1h-2zM493 267h1v1h-1zM801 267h1v1h-1zM494 268h1v1h-1zM799 268h2v1h-2zM495 269h2v1h-2zM797 269h2v1h-2zM497 270h1v1h-1zM796 270h1v1h-1zM498 271h1v1h-1zM794 271h2v1h-2zM499 272h1v1h-1zM793 272h1v1h-1zM500 273h1v1h-1zM791 273h2v1h-2zM501 274h2v1h-2zM789 274h2v1h-2zM503 275h1v1h-1zM787 275h2v1h-2zM504 276h1v1h-1zM785 276h2v1h-2zM505 277h2v1h-2zM782 277h3v1h-3zM507 278h1v1h-1zM779 278h3v1h-3zM508 279h1v1h-1zM777 279h2v1h-2zM509 280h2v1h-2zM774 280h3v1h-3zM511 281h2v1h-2zM771 281h3v1h-3zM513 282h1v1h-1zM769 282h2v1h-2zM514 283h2v1h-2zM766 283h3v1h-3zM516 284h2v1h-2zM763 284h3v1h-3zM518 285h2v1h-2zM759 285h4v1h-4zM520 286h2v1h-2zM755 286h4v1h-4zM522 287h2v1h-2zM751 287h4v1h-4zM524 288h1v1h-1zM748 288h3v1h-3zM525 289h2v1h-2zM746 289h2v1h-2zM527 290h2v1h-2zM745 290h1v1h-1zM529 291h1v1h-1zM743 291h2v1h-2zM530 292h2v1h-2zM741 292h2v1h-2zM532 293h1v1h-1zM740 293h1v1h-1zM533 294h2v1h-2zM739 294h1v1h-1zM535 295h2v1h-2zM738 295h1v1h-1zM537 296h1v1h-1zM737 296h1v1h-1zM538 297h2v1h-2zM735 297h2v1h-2zM540 298h2v1h-2zM734 298h1v1h-1zM542 299h2v1h-2zM733 299h1v1h-1zM544 300h2v1h-2zM732 300h1v1h-1zM546 301h2v1h-2zM730 301h2v1h-2zM548 302h1v1h-1zM729 302h1v1h-1zM549 303h2v1h-2zM727 303h2v1h-2zM551 304h2v1h-2zM725 304h2v1h-2zM553 305h1v1h-1zM724 305h1v1h-1zM554 306h2v1h-2zM723 306h1v1h-1zM556 307h2v1h-2zM722 307h1v1h-1zM558 308h2v1h-2zM721 308h1v1h-1zM560 309h2v1h-2zM719 309h2v1h-2zM562 310h2v1h-2zM718 310h1v1h-1zM564 311h1v1h-1zM717 311h1v1h-1zM565 312h2v1h-2zM716 312h1v1h-1zM567 313h1v1h-1zM715 313h1v1h-1zM568 314h1v1h-1zM713 314h2v1h-2zM569 315h2v1h-2zM712 315h1v1h-1zM571 316h1v1h-1zM711 316h1v1h-1zM572 317h1v1h-1zM709 317h2v1h-2zM573 318h2v1h-2zM708 318h1v1h-1zM575 319h2v1h-2zM707 319h1v1h-1zM577 320h1v1h-1zM705 320h2v1h-2zM578 321h2v1h-2zM704 321h1v1h-1zM580 322h2v1h-2zM703 322h1v1h-1zM582 323h2v1h-2zM701 323h2v1h-2zM584 324h2v1h-2zM700 324h1v1h-1zM586 325h2v1h-2zM698 325h2v1h-2zM588 326h2v1h-2zM697 326h1v1h-1zM590 327h2v1h-2zM695 327h2v1h-2zM592 328h2v1h-2zM693 328h2v1h-2zM594 329h2v1h-2zM692 329h1v1h-1zM596 330h2v1h-2zM690 330h2v1h-2zM598 331h3v1h-3zM689 331h1v1h-1zM601 332h2v1h-2zM687 332h2v1h-2zM603 333h3v1h-3zM685 333h2v1h-2zM606 334h3v1h-3zM683 334h2v1h-2zM609 335h2v1h-2zM681 335h2v1h-2zM611 336h3v1h-3zM678 336h3v1h-3zM614 337h3v1h-3zM675 337h3v1h-3zM617 338h2v1h-2zM673 338h2v1h-2zM619 339h3v1h-3zM670 339h3v1h-3zM622 340h3v1h-3zM667 340h3v1h-3zM625 341h2v1h-2zM663 341h4v1h-4zM627 342h12v1h-12zM659 342h4v1h-4zM639 343h4v1h-4zM655 343h4v1h-4zM643 344h12v1h-12z" fill="#0000cd"/>
<path d="M1027 79h2v1h-2zM1025 80h2v1h-2zM1029 80h2v1h-2zM1022 81h3v1h-3zM1031 81h1v1h-1zM1017 82h5v1h-5zM1032 82h1v1h-1zM1012 83h5v1h-5zM1033 83h2v1h-2zM1011 84h1v1h-1zM1035 84h1v1h-1zM1233 84h8v1h-8zM1010 85h1v1h-1zM1036 85h1v1h-1zM1225 85h8v1h-8zM1241 85h14v1h-14zM1009 86h1v1h-1zM1037 86h1v1h-1zM1219 86h6v1h-6zM1255 86h4v1h-4zM1007 87h2v1h-2zM1038 87h1v1h-1zM1217 87h2v1h-2zM1259 87h1v1h-1zM1006 88h1v1h-1zM1039 88h2v1h-2zM1214 88h3v1h-3zM1005 89h1v1h-1zM1041 89h1v1h-1zM1211 89h3v1h-3zM1004 90h1v1h-1zM1042 90h1v1h-1zM1209 90h2v1h-2zM1003 91h1v1h-1zM1043 91h1v1h-1zM1206 91h3v1h-3zM1003 92h1v1h-1zM1044 92h1v1h-1zM1204 92h2v1h-2zM1002 93h1v1h-1zM1045 93h1v1h-1zM1202 93h2v1h-2zM1002 94h1v1h-1zM1046 94h1v1h-1zM1201 94h1v1h-1zM1001 95h1v1h-1zM1047 95h1v1h-1zM1199 95h2v1h-2zM1000 96h1v1h-1zM1048 96h1v1h-1zM1197 96h2v1h-2zM1000 97h1v1h-1zM1049 97h1v1h-1zM1196 97h1v1h-1zM999 98h1v1h-1zM1050 98h1v1h-1zM1194 98h2v1h-2zM998 99h1v1h-1zM1051 99h1v1h-1zM1193 99h1v1h-1zM998 100h1v1h-1zM1052 100h1v1h-1zM1191 100h2v1h-2zM997 101h1v1h-1zM1053 101h1v1h-1zM1189 101h2v1h-2zM997 102h1v1h-1zM1054 102h1v1h-1zM1188 102h1v1h-1zM17 103h16v1h-16zM996 103h1v1h-1zM1055 103h2v1h-2zM1186 103h2v1h-2zM12 104h5v1h-5zM33 104h6v1h-6zM995 104h1v1h-1zM1057 104h1v1h-1zM1184 104h2v1h-2zM10 105h2v1h-2zM39 105h4v1h-4zM995 105h1v1h-1zM1058 105h1v1h-1zM1139 105h4v1h-4zM1182 105h2v1h-2zM8 106h2v1h-2zM43 106h4v1h-4zM994 106h1v1h-1zM1059 106h1v1h-1zM1135 106h4v1h-4zM1143 106h4v1h-4zM1180 106h2v1h-2zM6 107h2v1h-2zM47 107h4v1h-4zM994 107h1v1h-1zM1060 107h1v1h-1zM1121 107h14v1h-14zM1147 107h2v1h-2zM1178 107h2v1h-2zM4 108h2v1h-2zM51 108h3v1h-3zM993 108h1v1h-1zM1061 108h2v1h-2zM1116 108h5v1h-5zM1149 108h2v1h-2zM1176 108h2v1h-2zM54 109h3v1h-3zM993 109h1v1h-1zM1063 109h1v1h-1zM1114 109h2v1h-2zM1151 109h1v1h-1zM1174 109h2v1h-2zM57 110h2v1h-2zM992 110h1v1h-1zM1064 110h1v1h-1zM1112 110h2v1h-2zM1152 110h1v1h-1zM1171 110h3v1h-3zM59 111h3v1h-3zM992 111h1v1h-1zM1065 111h2v1h-2zM1110 111h2v1h-2zM1153 111h2v1h-2zM1169 111h2v1h-2zM62 112h3v1h-3zM991 112h1v1h-1zM1067 112h1v1h-1zM1107 112h3v1h-3zM1155 112h1v1h-1zM1166 112h3v1h-3zM65 113h2v1h-2zM991 113h1v1h-1zM1068 113h29v1h-29zM1103 113h4v1h-4zM1156 113h10v1h-10zM67 114h4v1h-4zM990 114h1v1h-1zM1097 114h6v1h-6zM71 115h4v1h-4zM990 115h1v1h-1zM75 116h3v1h-3zM989 116h1v1h-1zM78 117h3v1h-3zM989 117h1v1h-1zM81 118h2v1h-2zM988 118h1v1h-1zM83 119h3v1h-3zM988 119h1v1h-1zM86 120h3v1h-3zM988 120h1v1h-1zM89 121h2v1h-2zM987 121h1v1h-1zM91 122h2v1h-2zM987 122h1v1h-1zM93 123h2v1h-2zM986 123h1v1h-1zM95 124h1v1h-1zM986 124h1v1h-1zM96 125h1v1h-1zM985 125h1v1h-1zM97 126h2v1h-2zM985 126h1v1h-1zM99 127h1v1h-1zM984 127h1v1h-1zM100 128h1v1h-1zM984 128h1v1h-1zM101 129h2v1h-2zM984 129h1v1h-1zM103 130h2v1h-2zM983 130h1v1h-1zM105 131h1v1h-1zM983 131h1v1h-1zM106 132h2v1h-2zM982 132h1v1h-1zM108 133h1v1h-1zM982 133h1v1h-1zM109 134h2v1h-2zM981 134h1v1h-1zM111 135h1v1h-1zM981 135h1v1h-1zM112 136h1v1h-1zM980 136h1v1h-1zM113 137h2v1h-2zM980 137h1v1h-1zM115 138h1v1h-1zM980 138h1v1h-1zM116 139h1v1h-1zM979 139h1v1h-1zM117 140h1v1h-1zM979 140h1v1h-1zM118 141h1v1h-1zM978 141h1v1h-1zM119 142h2v1h-2zM978 142h1v1h-1zM121 143h1v1h-1zM977 143h1v1h-1zM122 144h1v1h-1zM977 144h1v1h-1zM123 145h1v1h-1zM976 145h1v1h-1zM124 146h1v1h-1zM976 146h1v1h-1zM125 147h1v1h-1zM976 147h1v1h-1zM126 148h1v1h-1zM975 148h1v1h-1zM127 149h1v1h-1zM975 149h1v1h-1zM128 150h1v1h-1zM974 150h1v1h-1zM128 151h1v1h-1zM974 151h1v1h-1zM129 152h1v1h-1zM973 152h1v1h-1zM130 153h1v1h-1zM973 153h1v1h-1zM131 154h1v1h-1zM972 154h1v1h-1zM132 155h2v1h-2zM972 155h1v1h-1zM134 156h2v1h-2zM233 156h8v1h-8zM972 156h1v1h-1zM136 157h2v1h-2zM227 157h6v1h-6zM241 157h5v1h-5zM971 157h1v1h-1zM138 158h2v1h-2zM171 158h14v1h-14zM225 158h2v1h-2zM246 158h3v1h-3zM971 158h1v1h-1zM140 159h2v1h-2zM167 159h4v1h-4zM185 159h5v1h-5zM222 159h3v1h-3zM249 159h2v1h-2zM970 159h1v1h-1zM142 160h3v1h-3zM163 160h4v1h-4zM190 160h3v1h-3zM219 160h3v1h-3zM251 160h3v1h-3zM970 160h1v1h-1zM145 161h2v1h-2zM161 161h2v1h-2zM193 161h2v1h-2zM217 161h2v1h-2zM254 161h3v1h-3zM969 161h1v1h-1zM147 162h6v1h-6zM158 162h3v1h-3zM195 162h4v1h-4zM214 162h3v1h-3zM257 162h2v1h-2zM969 162h1v1h-1zM153 163h5v1h-5zM199 163h4v1h-4zM209 163h5v1h-5zM259 163h2v1h-2zM968 163h1v1h-1zM203 164h6v1h-6zM261 164h2v1h-2zM968 164h1v1h-1zM263 165h2v1h-2zM968 165h1v1h-1zM265 166h1v1h-1zM967 166h1v1h-1zM266 167h2v1h-2zM967 167h1v1h-1zM268 168h1v1h-1zM966 168h1v1h-1zM269 169h2v1h-2zM966 169h1v1h-1zM271 170h2v1h-2zM965 170h1v1h-1zM273 171h1v1h-1zM965 171h1v1h-1zM274 172h2v1h-2zM964 172h1v1h-1zM276 173h1v1h-1zM964 173h1v1h-1zM277 174h2v1h-2zM963 174h1v1h-1zM279 175h2v1h-2zM962 175h1v1h-1zM281 176h1v1h-1zM961 176h1v1h-1zM282 177h2v1h-2zM960 177h1v1h-1zM284 178h1v1h-1zM960 178h1v1h-1zM285 179h2v1h-2zM959 179h1v1h-1zM287 180h2v1h-2zM958 180h1v1h-1zM289 181h1v1h-1zM957 181h1v1h-1zM290 182h2v1h-2zM956 182h1v1h-1zM292 183h2v1h-2zM955 183h1v1h-1zM294 184h3v1h-3zM953 184h2v1h-2zM297 185h2v1h-2zM387 185h2v1h-2zM952 185h1v1h-1zM299 186h3v1h-3zM383 186h4v1h-4zM389 186h1v1h-1zM951 186h1v1h-1zM302 187h2v1h-2zM380 187h3v1h-3zM390 187h1v1h-1zM949 187h2v1h-2zM304 188h2v1h-2zM379 188h1v1h-1zM391 188h1v1h-1zM948 188h1v1h-1zM306 189h2v1h-2zM378 189h1v1h-1zM392 189h1v1h-1zM947 189h1v1h-1zM308 190h2v1h-2zM377 190h1v1h-1zM392 190h1v1h-1zM946 190h1v1h-1zM310 191h2v1h-2zM375 191h2v1h-2zM393 191h1v1h-1zM945 191h1v1h-1zM312 192h2v1h-2zM374 192h1v1h-1zM394 192h1v1h-1zM944 192h1v1h-1zM314 193h2v1h-2zM373 193h1v1h-1zM395 193h1v1h-1zM943 193h1v1h-1zM316 194h1v1h-1zM372 194h1v1h-1zM396 194h2v1h-2zM942 194h1v1h-1zM317 195h1v1h-1zM371 195h1v1h-1zM398 195h2v1h-2zM941 195h1v1h-1zM318 196h1v1h-1zM370 196h1v1h-1zM400 196h2v1h-2zM940 196h1v1h-1zM318 197h1v1h-1zM369 197h1v1h-1zM402 197h2v1h-2zM939 197h1v1h-1zM319 198h1v1h-1zM368 198h1v1h-1zM404 198h1v1h-1zM938 198h1v1h-1zM320 199h1v1h-1zM367 199h1v1h-1zM404 199h1v1h-1zM937 199h1v1h-1zM321 200h1v1h-1zM366 200h1v1h-1zM405 200h1v1h-1zM935 200h2v1h-2zM322 201h1v1h-1zM365 201h1v1h-1zM405 201h1v1h-1zM934 201h1v1h-1zM322 202h1v1h-1zM364 202h1v1h-1zM405 202h1v1h-1zM933 202h1v1h-1zM323 203h1v1h-1zM363 203h1v1h-1zM406 203h1v1h-1zM931 203h2v1h-2zM324 204h1v1h-1zM362 204h1v1h-1zM406 204h1v1h-1zM927 204h4v1h-4zM325 205h1v1h-1zM361 205h1v1h-1zM407 205h1v1h-1zM923 205h4v1h-4zM326 206h1v1h-1zM360 206h1v1h-1zM407 206h1v1h-1zM921 206h2v1h-2zM327 207h2v1h-2zM359 207h1v1h-1zM407 207h1v1h-1zM905 207h8v1h-8zM918 207h3v1h-3zM329 208h1v1h-1zM358 208h1v1h-1zM408 208h1v1h-1zM900 208h5v1h-5zM913 208h5v1h-5zM330 209h1v1h-1zM357 209h1v1h-1zM408 209h1v1h-1zM899 209h1v1h-1zM331 210h1v1h-1zM355 210h2v1h-2zM408 210h1v1h-1zM898 210h1v1h-1zM332 211h2v1h-2zM351 211h4v1h-4zM409 211h1v1h-1zM897 211h1v1h-1zM334 212h2v1h-2zM347 212h4v1h-4zM409 212h1v1h-1zM895 212h2v1h-2zM336 213h2v1h-2zM345 213h2v1h-2zM409 213h1v1h-1zM894 213h1v1h-1zM338 214h2v1h-2zM342 214h3v1h-3zM410 214h1v1h-1zM893 214h1v1h-1zM340 215h2v1h-2zM410 215h1v1h-1zM892 215h1v1h-1zM411 216h1v1h-1zM891 216h1v1h-1zM411 217h1v1h-1zM890 217h1v1h-1zM411 218h1v1h-1zM890 218h1v1h-1zM412 219h1v1h-1zM889 219h1v1h-1zM412 220h1v1h-1zM888 220h1v1h-1zM412 221h1v1h-1zM828 221h2v1h-2zM887 221h1v1h-1zM413 222h1v1h-1zM827 222h1v1h-1zM830 222h3v1h-3zM886 222h1v1h-1zM413 223h1v1h-1zM825 223h2v1h-2zM833 223h2v1h-2zM886 223h1v1h-1zM413 224h1v1h-1zM824 224h1v1h-1zM835 224h2v1h-2zM885 224h1v1h-1zM413 225h1v1h-1zM823 225h1v1h-1zM837 225h1v1h-1zM884 225h1v1h-1zM414 226h1v1h-1zM821 226h2v1h-2zM838 226h1v1h-1zM883 226h1v1h-1zM414 227h1v1h-1zM817 227h4v1h-4zM839 227h2v1h-2zM882 227h1v1h-1zM414 228h1v1h-1zM753 228h5v1h-5zM812 228h5v1h-5zM841 228h1v1h-1zM881 228h1v1h-1zM414 229h1v1h-1zM748 229h5v1h-5zM758 229h2v1h-2zM811 229h1v1h-1zM842 229h1v1h-1zM880 229h1v1h-1zM415 230h1v1h-1zM747 230h1v1h-1zM760 230h2v1h-2zM809 230h2v1h-2zM843 230h1v1h-1zM880 230h1v1h-1zM415 231h1v1h-1zM746 231h1v1h-1zM762 231h2v1h-2zM808 231h1v1h-1zM844 231h1v1h-1zM879 231h1v1h-1zM415 232h1v1h-1zM746 232h1v1h-1zM764 232h2v1h-2zM807 232h1v1h-1zM845 232h1v1h-1zM878 232h1v1h-1zM416 233h1v1h-1zM745 233h1v1h-1zM766 233h2v1h-2zM805 233h2v1h-2zM846 233h1v1h-1zM877 233h1v1h-1zM416 234h1v1h-1zM744 234h1v1h-1zM768 234h2v1h-2zM804 234h1v1h-1zM847 234h2v1h-2zM876 234h1v1h-1zM416 235h1v1h-1zM743 235h1v1h-1zM770 235h2v1h-2zM803 235h1v1h-1zM849 235h1v1h-1zM875 235h1v1h-1zM416 236h1v1h-1zM742 236h1v1h-1zM772 236h2v1h-2zM802 236h1v1h-1zM850 236h1v1h-1zM874 236h1v1h-1zM417 237h1v1h-1zM742 237h1v1h-1zM774 237h3v1h-3zM801 237h1v1h-1zM851 237h1v1h-1zM873 237h1v1h-1zM417 238h1v1h-1zM741 238h1v1h-1zM777 238h2v1h-2zM800 238h1v1h-1zM852 238h2v1h-2zM871 238h2v1h-2zM417 239h1v1h-1zM740 239h1v1h-1zM779 239h2v1h-2zM800 239h1v1h-1zM854 239h3v1h-3zM870 239h1v1h-1zM418 240h1v1h-1zM739 240h1v1h-1zM781 240h1v1h-1zM799 240h1v1h-1zM857 240h2v1h-2zM869 240h1v1h-1zM418 241h1v1h-1zM738 241h1v1h-1zM782 241h1v1h-1zM798 241h1v1h-1zM859 241h10v1h-10zM418 242h1v1h-1zM737 242h1v1h-1zM783 242h1v1h-1zM797 242h1v1h-1zM418 243h1v1h-1zM736 243h1v1h-1zM784 243h1v1h-1zM796 243h1v1h-1zM419 244h1v1h-1zM736 244h1v1h-1zM785 244h1v1h-1zM794 244h2v1h-2zM419 245h1v1h-1zM735 245h1v1h-1zM786 245h1v1h-1zM792 245h2v1h-2zM419 246h1v1h-1zM734 246h1v1h-1zM787 246h1v1h-1zM790 246h2v1h-2zM419 247h1v1h-1zM733 247h1v1h-1zM788 247h2v1h-2zM420 248h1v1h-1zM732 248h1v1h-1zM420 249h1v1h-1zM731 249h1v1h-1zM420 250h1v1h-1zM731 250h1v1h-1zM420 251h1v1h-1zM730 251h1v1h-1zM421 252h1v1h-1zM729 252h1v1h-1zM421 253h1v1h-1zM728 253h1v1h-1zM421 254h1v1h-1zM728 254h1v1h-1zM421 255h1v1h-1zM727 255h1v1h-1zM422 256h1v1h-1zM726 256h1v1h-1zM422 257h1v1h-1zM725 257h1v1h-1zM422 258h1v1h-1zM725 258h1v1h-1zM422 259h1v1h-1zM724 259h1v1h-1zM423 260h1v1h-1zM723 260h1v1h-1zM423 261h1v1h-1zM723 261h1v1h-1zM423 262h1v1h-1zM722 262h1v1h-1zM423 263h1v1h-1zM721 263h1v1h-1zM424 264h1v1h-1zM720 264h1v1h-1zM424 265h1v1h-1zM641 265h5v1h-5zM720 265h1v1h-1zM424 266h1v1h-1zM636 266h5v1h-5zM646 266h3v1h-3zM719 266h1v1h-1zM424 267h1v1h-1zM635 267h1v1h-1zM649 267h2v1h-2zM657 267h6v1h-6zM718 267h1v1h-1zM425 268h1v1h-1zM635 268h1v1h-1zM651 268h6v1h-6zM663 268h4v1h-4zM717 268h1v1h-1zM425 269h1v1h-1zM634 269h1v1h-1zM667 269h4v1h-4zM707 269h6v1h-6zM717 269h1v1h-1zM425 270h1v1h-1zM633 270h1v1h-1zM671 270h4v1h-4zM703 270h4v1h-4zM713 270h4v1h-4zM425 271h1v1h-1zM632 271h1v1h-1zM675 271h3v1h-3zM699 271h4v1h-4zM426 272h1v1h-1zM632 272h1v1h-1zM678 272h3v1h-3zM695 272h4v1h-4zM426 273h1v1h-1zM631 273h1v1h-1zM681 273h2v1h-2zM689 273h6v1h-6zM426 274h1v1h-1zM630 274h1v1h-1zM683 274h6v1h-6zM426 275h1v1h-1zM629 275h1v1h-1zM427 276h1v1h-1zM629 276h1v1h-1zM427 277h1v1h-1zM628 277h1v1h-1zM427 278h1v1h-1zM627 278h1v1h-1zM427 279h1v1h-1zM627 279h1v1h-1zM428 280h1v1h-1zM626 280h1v1h-1zM428 281h1v1h-1zM626 281h1v1h-1zM428 282h1v1h-1zM625 282h1v1h-1zM429 283h1v1h-1zM625 283h1v1h-1zM429 284h1v1h-1zM624 284h1v1h-1zM430 285h1v1h-1zM623 285h1v1h-1zM430 286h1v1h-1zM623 286h1v1h-1zM430 287h1v1h-1zM622 287h1v1h-1zM431 288h1v1h-1zM622 288h1v1h-1zM431 289h1v1h-1zM621 289h1v1h-1zM432 290h1v1h-1zM621 290h1v1h-1zM432 291h1v1h-1zM620 291h1v1h-1zM432 292h1v1h-1zM619 292h1v1h-1zM433 293h1v1h-1zM619 293h1v1h-1zM433 294h1v1h-1zM618 294h1v1h-1zM434 295h1v1h-1zM618 295h1v1h-1zM434 296h1v1h-1zM617 296h1v1h-1zM434 297h1v1h-1zM616 297h1v1h-1zM435 298h1v1h-1zM616 298h1v1h-1zM435 299h1v1h-1zM615 299h1v1h-1zM436 300h1v1h-1zM614 300h1v1h-1zM436 301h1v1h-1zM614 301h1v1h-1zM436 302h1v1h-1zM613 302h1v1h-1zM437 303h1v1h-1zM613 303h1v1h-1zM437 304h1v1h-1zM612 304h1v1h-1zM437 305h1v1h-1zM612 305h1v1h-1zM437 306h1v1h-1zM611 306h1v1h-1zM438 307h1v1h-1zM611 307h1v1h-1zM438 308h1v1h-1zM610 308h1v1h-1zM438 309h1v1h-1zM610 309h1v1h-1zM438 310h1v1h-1zM610 310h1v1h-1zM439 311h1v1h-1zM609 311h1v1h-1zM439 312h1v1h-1zM609 312h1v1h-1zM439 313h1v1h-1zM609 313h1v1h-1zM439 314h1v1h-1zM608 314h1v1h-1zM440 315h1v1h-1zM608 315h1v1h-1zM440 316h1v1h-1zM607 316h1v1h-1zM440 317h1v1h-1zM607 317h1v1h-1zM440 318h1v1h-1zM607 318h1v1h-1zM441 319h1v1h-1zM606 319h1v1h-1zM441 320h1v1h-1zM606 320h1v1h-1zM441 321h1v1h-1zM606 321h1v1h-1zM441 322h1v1h-1zM605 322h1v1h-1zM442 323h1v1h-1zM605 323h1v1h-1zM442 324h1v1h-1zM604 324h1v1h-1zM442 325h1v1h-1zM604 325h1v1h-1zM442 326h1v1h-1zM604 326h1v1h-1zM443 327h1v1h-1zM603 327h1v1h-1zM443 328h1v1h-1zM603 328h1v1h-1zM443 329h1v1h-1zM602 329h1v1h-1zM443 330h1v1h-1zM602 330h1v1h-1zM444 331h1v1h-1zM602 331h1v1h-1zM444 332h1v1h-1zM548 332h1v1h-1zM601 332h1v1h-1zM444 333h1v1h-1zM546 333h2v1h-2zM549 333h2v1h-2zM601 333h1v1h-1zM445 334h1v1h-1zM544 334h2v1h-2zM551 334h2v1h-2zM600 334h1v1h-1zM445 335h1v1h-1zM542 335h2v1h-2zM553 335h1v1h-1zM600 335h1v1h-1zM445 336h1v1h-1zM540 336h2v1h-2zM554 336h2v1h-2zM600 336h1v1h-1zM445 337h1v1h-1zM539 337h1v1h-1zM556 337h1v1h-1zM599 337h1v1h-1zM446 338h1v1h-1zM538 338h1v1h-1zM557 338h1v1h-1zM599 338h1v1h-1zM446 339h1v1h-1zM537 339h1v1h-1zM557 339h1v1h-1zM598 339h1v1h-1zM446 340h1v1h-1zM536 340h1v1h-1zM558 340h1v1h-1zM598 340h1v1h-1zM447 341h1v1h-1zM536 341h1v1h-1zM559 341h1v1h-1zM598 341h1v1h-1zM447 342h1v1h-1zM535 342h1v1h-1zM559 342h1v1h-1zM597 342h1v1h-1zM447 343h1v1h-1zM534 343h1v1h-1zM560 343h1v1h-1zM597 343h1v1h-1zM447 344h1v1h-1zM533 344h1v1h-1zM561 344h1v1h-1zM596 344h1v1h-1zM448 345h1v1h-1zM532 345h1v1h-1zM561 345h1v1h-1zM596 345h1v1h-1zM448 346h1v1h-1zM531 346h1v1h-1zM562 346h1v1h-1zM595 346h1v1h-1zM448 347h1v1h-1zM531 347h1v1h-1zM563 347h1v1h-1zM595 347h1v1h-1zM449 348h1v1h-1zM530 348h1v1h-1zM563 348h1v1h-1zM594 348h1v1h-1zM449 349h1v1h-1zM530 349h1v1h-1zM564 349h1v1h-1zM593 349h1v1h-1zM449 350h1v1h-1zM529 350h1v1h-1zM565 350h1v1h-1zM592 350h1v1h-1zM449 351h1v1h-1zM529 351h1v1h-1zM566 351h1v1h-1zM592 351h1v1h-1zM450 352h1v1h-1zM528 352h1v1h-1zM567 352h1v1h-1zM591 352h1v1h-1zM450 353h1v1h-1zM527 353h1v1h-1zM568 353h1v1h-1zM590 353h1v1h-1zM450 354h1v1h-1zM527 354h1v1h-1zM568 354h1v1h-1zM589 354h1v1h-1zM451 355h1v1h-1zM526 355h1v1h-1zM569 355h1v1h-1zM589 355h1v1h-1zM451 356h1v1h-1zM526 356h1v1h-1zM570 356h1v1h-1zM588 356h1v1h-1zM451 357h1v1h-1zM525 357h1v1h-1zM571 357h1v1h-1zM586 357h2v1h-2zM451 358h1v1h-1zM525 358h1v1h-1zM572 358h3v1h-3zM584 358h2v1h-2zM452 359h1v1h-1zM524 359h1v1h-1zM575 359h4v1h-4zM582 359h2v1h-2zM452 360h1v1h-1zM524 360h1v1h-1zM579 360h3v1h-3zM452 361h1v1h-1zM523 361h1v1h-1zM453 362h1v1h-1zM523 362h1v1h-1zM453 363h1v1h-1zM523 363h1v1h-1zM454 364h1v1h-1zM522 364h1v1h-1zM454 365h1v1h-1zM522 365h1v1h-1zM454 366h1v1h-1zM522 366h1v1h-1zM455 367h1v1h-1zM521 367h1v1h-1zM455 368h1v1h-1zM521 368h1v1h-1zM455 369h1v1h-1zM521 369h1v1h-1zM456 370h1v1h-1zM520 370h1v1h-1zM456 371h1v1h-1zM520 371h1v1h-1zM457 372h1v1h-1zM520 372h1v1h-1zM457 373h1v1h-1zM519 373h1v1h-1zM457 374h1v1h-1zM519 374h1v1h-1zM458 375h1v1h-1zM519 375h1v1h-1zM458 376h1v1h-1zM518 376h1v1h-1zM458 377h1v1h-1zM518 377h1v1h-1zM459 378h1v1h-1zM518 378h1v1h-1zM459 379h1v1h-1zM517 379h1v1h-1zM460 380h1v1h-1zM517 380h1v1h-1zM460 381h1v1h-1zM517 381h1v1h-1zM460 382h1v1h-1zM516 382h1v1h-1zM461 383h1v1h-1zM516 383h1v1h-1zM461 384h1v1h-1zM516 384h1v1h-1zM462 385h1v1h-1zM515 385h1v1h-1zM462 386h1v1h-1zM515 386h1v1h-1zM463 387h1v1h-1zM515 387h1v1h-1zM463 388h1v1h-1zM514 388h1v1h-1zM464 389h1v1h-1zM514 389h1v1h-1zM464 390h1v1h-1zM513 390h1v1h-1zM465 391h1v1h-1zM513 391h1v1h-1zM465 392h1v1h-1zM513 392h1v1h-1zM466 393h1v1h-1zM512 393h1v1h-1zM466 394h1v1h-1zM512 394h1v1h-1zM467 395h1v1h-1zM512 395h1v1h-1zM467 396h1v1h-1zM511 396h1v1h-1zM468 397h1v1h-1zM511 397h1v1h-1zM468 398h1v1h-1zM511 398h1v1h-1zM468 399h1v1h-1zM510 399h1v1h-1zM469 400h1v1h-1zM510 400h1v1h-1zM469 401h1v1h-1zM509 401h1v1h-1zM470 402h1v1h-1zM509 402h1v1h-1zM470 403h1v1h-1zM509 403h1v1h-1zM471 404h1v1h-1zM508 404h1v1h-1zM471 405h1v1h-1zM508 405h1v1h-1zM471 406h1v1h-1zM507 406h1v1h-1zM472 407h1v1h-1zM507 407h1v1h-1zM472 408h1v1h-1zM506 408h1v1h-1zM473 409h1v1h-1zM505 409h1v1h-1zM473 410h1v1h-1zM505 410h1v1h-1zM473 411h1v1h-1zM504 411h1v1h-1zM474 412h1v1h-1zM503 412h1v1h-1zM474 413h1v1h-1zM503 413h1v1h-1zM475 414h1v1h-1zM502 414h1v1h-1zM475 415h1v1h-1zM501 415h1v1h-1zM476 416h1v1h-1zM501 416h1v1h-1zM476 417h1v1h-1zM500 417h1v1h-1zM477 418h1v1h-1zM499 418h1v1h-1zM477 419h1v1h-1zM498 419h1v1h-1zM478 420h1v1h-1zM497 420h1v1h-1zM478 421h1v1h-1zM495 421h2v1h-2zM479 422h1v1h-1zM494 422h1v1h-1zM479 423h1v1h-1zM493 423h1v1h-1zM480 424h1v1h-1zM492 424h1v1h-1zM481 425h1v1h-1zM491 425h1v1h-1zM481 426h1v1h-1zM490 426h1v1h-1zM482 427h1v1h-1zM489 427h1v1h-1zM482 428h1v1h-1zM487 428h2v1h-2zM483 429h1v1h-1zM486 429h1v1h-1zM483 430h1v1h-1zM485 430h1v1h-1zM484 431h1v1h-1z" fill="#ffa500"/>
<rect x="4" y="72" width="1592" height="2" fill="#ff0000"/>
<rect x="4" y="102" width="1592" height="2" fill="#ff0000"/>
<rect x="4" y="132" width="1592" height="2" fill="#00ff00"/>
<rect x="4" y="171" width="1592" height="2" fill="#0000ff"/>
<rect x="4" y="222" width="1592" height="2" fill="#0000ff"/>
</g>
<rect x="3" y="130" width="6" height="6" fill="#00ff00"/>
<rect x="5" y="132" width="2" height="2" fill="#fff"/>
<rect x="1590" y="130" width="6" height="6" fill="#00ff00"/>
<rect x="1592" y="132" width="2" height="2" fill="#fff"/>
<rect x="3" y="220" width="6" height="6" fill="#0000ff"/>
<rect x="5" y="222" width="2" height="2" fill="#fff"/>
<rect x="1590" y="220" width="6" height="6" fill="#0000ff"/>
<rect x="1592" y="222" width="2" height="2" fill="#fff"/>
<path d="M1271.5 30 L1281.5 30 L1276.5 35 Z" fill="#c0c0c0"/>
<rect x="7" y="36" width="7" height="1" fill="#000"/>
<rect x="8" y="37" width="5" height="1" fill="#000"/>
<rect x="9" y="38" width="3" height="1" fill="#000"/>
<rect x="10" y="39" width="1" height="1" fill="#000"/>
<text x="19.4" y="41" font-size="10" fill="#000" stroke="#000" stroke-width="0.15" textLength="65.2" lengthAdjust="spacingAndGlyphs">AUDUSD,Daily</text>
<text x="91" y="41" font-size="10" fill="#000" stroke="#000" stroke-width="0.15" textLength="141" lengthAdjust="spacingAndGlyphs">0.69811 0.69850 0.69254 0.69349</text>
<rect x="1597" y="37" width="2" height="1" fill="#000"/>
<text x="1602" y="41" font-size="10" fill="#000" stroke="#000" stroke-width="0.15" textLength="33" lengthAdjust="spacingAndGlyphs">0.71190</text>
<rect x="1597" y="70" width="2" height="1" fill="#000"/>
<text x="1602" y="74" font-size="10" fill="#000" stroke="#000" stroke-width="0.15" textLength="33" lengthAdjust="spacingAndGlyphs">0.70110</text>
<rect x="1597" y="103" width="2" height="1" fill="#000"/>
<text x="1602" y="107" font-size="10" fill="#000" stroke="#000" stroke-width="0.15" textLength="33" lengthAdjust="spacingAndGlyphs">0.69000</text>
<rect x="1597" y="136" width="2" height="1" fill="#000"/>
<text x="1602" y="140" font-size="10" fill="#000" stroke="#000" stroke-width="0.15" textLength="33" lengthAdjust="spacingAndGlyphs">0.67920</text>
<rect x="1597" y="169" width="2" height="1" fill="#000"/>
<text x="1602" y="173" font-size="10" fill="#000" stroke="#000" stroke-width="0.15" textLength="33" lengthAdjust="spacingAndGlyphs">0.66810</text>
<rect x="1597" y="202" width="2" height="1" fill="#000"/>
<text x="1602" y="206" font-size="10" fill="#000" stroke="#000" stroke-width="0.15" textLength="33" lengthAdjust="spacingAndGlyphs">0.65730</text>
<rect x="1597" y="235" width="2" height="1" fill="#000"/>
<text x="1602" y="239" font-size="10" fill="#000" stroke="#000" stroke-width="0.15" textLength="33" lengthAdjust="spacingAndGlyphs">0.64620</text>
<rect x="1597" y="268" width="2" height="1" fill="#000"/>
<text x="1602" y="272" font-size="10" fill="#000" stroke="#000" stroke-width="0.15" textLength="33" lengthAdjust="spacingAndGlyphs">0.63540</text>
<rect x="1597" y="301" width="2" height="1" fill="#000"/>
<text x="1602" y="305" font-size="10" fill="#000" stroke="#000" stroke-width="0.15" textLength="33" lengthAdjust="spacingAndGlyphs">0.62430</text>
<rect x="1597" y="334" width="2" height="1" fill="#000"/>
<text x="1602" y="338" font-size="10" fill="#000" stroke="#000" stroke-width="0.15" textLength="33" lengthAdjust="spacingAndGlyphs">0.61350</text>
<rect x="1597" y="367" width="2" height="1" fill="#000"/>
<text x="1602" y="371" font-size="10" fill="#000" stroke="#000" stroke-width="0.15" textLength="33" lengthAdjust="spacingAndGlyphs">0.60240</text>
<rect x="1597" y="400" width="2" height="1" fill="#000"/>
<text x="1602" y="404" font-size="10" fill="#000" stroke="#000" stroke-width="0.15" textLength="33" lengthAdjust="spacingAndGlyphs">0.59160</text>
<rect x="1597" y="433" width="2" height="1" fill="#000"/>
<text x="1602" y="437" font-size="10" fill="#000" stroke="#000" stroke-width="0.15" textLength="33" lengthAdjust="spacingAndGlyphs">0.58050</text>
<rect x="1597" y="466" width="2" height="1" fill="#000"/>
<text x="1602" y="470" font-size="10" fill="#000" stroke="#000" stroke-width="0.15" textLength="33" lengthAdjust="spacingAndGlyphs">0.56970</text>
<rect x="1597" y="499" width="2" height="1" fill="#000"/>
<text x="1602" y="503" font-size="10" fill="#000" stroke="#000" stroke-width="0.15" textLength="33" lengthAdjust="spacingAndGlyphs">0.55860</text>
<rect x="1597" y="532" width="2" height="1" fill="#000"/>
<text x="1602" y="536" font-size="10" fill="#000" stroke="#000" stroke-width="0.15" textLength="33" lengthAdjust="spacingAndGlyphs">0.54780</text>
<rect x="1598" y="67" width="39" height="11" fill="#ff0000"/>
<text x="1602" y="76" font-size="10" fill="#fff" stroke="#fff" stroke-width="0.15" textLength="33" lengthAdjust="spacingAndGlyphs">0.70007</text>
<rect x="1598" y="88" width="39" height="11" fill="#000"/>
<text x="1602" y="97" font-size="10" fill="#fff" stroke="#fff" stroke-width="0.15" textLength="33" lengthAdjust="spacingAndGlyphs">0.69349</text>
<rect x="1598" y="97" width="39" height="11" fill="#ff0000"/>
<text x="1602" y="106" font-size="10" fill="#fff" stroke="#fff" stroke-width="0.15" textLength="33" lengthAdjust="spacingAndGlyphs">0.69010</text>
<rect x="1598" y="127" width="39" height="11" fill="#00ff00"/>
<text x="1602" y="136" font-size="10" fill="#fff" stroke="#fff" stroke-width="0.15" textLength="33" lengthAdjust="spacingAndGlyphs">0.68017</text>
<rect x="1598" y="166" width="39" height="11" fill="#0000ff"/>
<text x="1602" y="175" font-size="10" fill="#fff" stroke="#fff" stroke-width="0.15" textLength="33" lengthAdjust="spacingAndGlyphs">0.66706</text>
<rect x="1598" y="217" width="39" height="11" fill="#0000ff"/>
<text x="1602" y="226" font-size="10" fill="#fff" stroke="#fff" stroke-width="0.15" textLength="33" lengthAdjust="spacingAndGlyphs">0.65020</text>
<line x1="5" y1="565.5" x2="1596" y2="565.5" stroke="#c0c0c0" stroke-width="1" stroke-dasharray="3 3"/>
<line x1="5" y1="601.5" x2="1596" y2="601.5" stroke="#c0c0c0" stroke-width="1" stroke-dasharray="3 3"/>
<path d="M993 559h6v1h-6zM979 560h14v1h-14zM999 560h4v1h-4zM1009 560h5v1h-5zM977 561h2v1h-2zM1003 561h6v1h-6zM1014 561h3v1h-3zM1027 561h2v1h-2zM974 562h3v1h-3zM1017 562h2v1h-2zM1023 562h4v1h-4zM1029 562h1v1h-1zM971 563h3v1h-3zM1019 563h4v1h-4zM1029 563h1v1h-1zM969 564h2v1h-2zM1030 564h1v1h-1zM966 565h3v1h-3zM1031 565h1v1h-1zM964 566h2v1h-2zM1031 566h1v1h-1zM963 567h1v1h-1zM1032 567h1v1h-1zM737 568h6v1h-6zM961 568h2v1h-2zM1033 568h1v1h-1zM731 569h6v1h-6zM743 569h4v1h-4zM960 569h1v1h-1zM1033 569h1v1h-1zM635 570h2v1h-2zM729 570h2v1h-2zM747 570h2v1h-2zM924 570h1v1h-1zM959 570h1v1h-1zM1034 570h1v1h-1zM1203 570h6v1h-6zM631 571h4v1h-4zM637 571h1v1h-1zM726 571h3v1h-3zM749 571h1v1h-1zM883 571h3v1h-3zM923 571h1v1h-1zM925 571h2v1h-2zM940 571h3v1h-3zM957 571h2v1h-2zM1035 571h1v1h-1zM1115 571h2v1h-2zM1201 571h2v1h-2zM1209 571h14v1h-14zM1252 571h1v1h-1zM625 572h6v1h-6zM638 572h1v1h-1zM724 572h2v1h-2zM750 572h1v1h-1zM803 572h6v1h-6zM879 572h4v1h-4zM886 572h2v1h-2zM921 572h2v1h-2zM927 572h2v1h-2zM938 572h2v1h-2zM943 572h4v1h-4zM953 572h4v1h-4zM1035 572h1v1h-1zM1113 572h2v1h-2zM1117 572h1v1h-1zM1198 572h3v1h-3zM1223 572h4v1h-4zM1250 572h2v1h-2zM1253 572h1v1h-1zM617 573h8v1h-8zM639 573h2v1h-2zM722 573h2v1h-2zM751 573h1v1h-1zM799 573h4v1h-4zM809 573h4v1h-4zM875 573h4v1h-4zM888 573h2v1h-2zM920 573h1v1h-1zM929 573h1v1h-1zM936 573h2v1h-2zM947 573h6v1h-6zM1036 573h2v1h-2zM1073 573h4v1h-4zM1110 573h3v1h-3zM1118 573h1v1h-1zM1187 573h11v1h-11zM1227 573h12v1h-12zM1248 573h2v1h-2zM1254 573h1v1h-1zM609 574h8v1h-8zM641 574h1v1h-1zM675 574h2v1h-2zM721 574h1v1h-1zM752 574h1v1h-1zM796 574h3v1h-3zM813 574h2v1h-2zM873 574h2v1h-2zM890 574h2v1h-2zM919 574h1v1h-1zM930 574h2v1h-2zM934 574h2v1h-2zM1038 574h3v1h-3zM1067 574h6v1h-6zM1077 574h2v1h-2zM1108 574h2v1h-2zM1119 574h1v1h-1zM1183 574h4v1h-4zM1239 574h4v1h-4zM1246 574h2v1h-2zM1255 574h2v1h-2zM604 575h5v1h-5zM642 575h1v1h-1zM671 575h4v1h-4zM677 575h1v1h-1zM719 575h2v1h-2zM753 575h1v1h-1zM795 575h1v1h-1zM815 575h2v1h-2zM870 575h3v1h-3zM892 575h2v1h-2zM917 575h2v1h-2zM932 575h2v1h-2zM1041 575h2v1h-2zM1063 575h4v1h-4zM1079 575h2v1h-2zM1106 575h2v1h-2zM1120 575h1v1h-1zM1171 575h12v1h-12zM1243 575h3v1h-3zM1257 575h1v1h-1zM602 576h2v1h-2zM643 576h1v1h-1zM659 576h12v1h-12zM678 576h1v1h-1zM700 576h5v1h-5zM717 576h2v1h-2zM754 576h1v1h-1zM779 576h3v1h-3zM793 576h2v1h-2zM817 576h1v1h-1zM827 576h3v1h-3zM868 576h2v1h-2zM894 576h3v1h-3zM913 576h4v1h-4zM1043 576h6v1h-6zM1057 576h6v1h-6zM1081 576h1v1h-1zM1104 576h2v1h-2zM1121 576h1v1h-1zM1167 576h4v1h-4zM1258 576h1v1h-1zM600 577h2v1h-2zM644 577h3v1h-3zM657 577h2v1h-2zM679 577h1v1h-1zM698 577h2v1h-2zM705 577h12v1h-12zM755 577h1v1h-1zM777 577h2v1h-2zM782 577h2v1h-2zM792 577h1v1h-1zM818 577h2v1h-2zM823 577h4v1h-4zM830 577h3v1h-3zM867 577h1v1h-1zM897 577h2v1h-2zM905 577h8v1h-8zM1049 577h8v1h-8zM1082 577h2v1h-2zM1102 577h2v1h-2zM1122 577h1v1h-1zM1164 577h3v1h-3zM1259 577h1v1h-1zM598 578h2v1h-2zM647 578h4v1h-4zM654 578h3v1h-3zM680 578h1v1h-1zM696 578h2v1h-2zM756 578h5v1h-5zM774 578h3v1h-3zM784 578h2v1h-2zM791 578h1v1h-1zM820 578h3v1h-3zM833 578h2v1h-2zM866 578h1v1h-1zM899 578h6v1h-6zM1084 578h18v1h-18zM1123 578h1v1h-1zM1162 578h2v1h-2zM595 579h3v1h-3zM651 579h3v1h-3zM681 579h1v1h-1zM694 579h2v1h-2zM761 579h13v1h-13zM786 579h2v1h-2zM789 579h2v1h-2zM835 579h3v1h-3zM865 579h1v1h-1zM1124 579h13v1h-13zM1160 579h2v1h-2zM591 580h4v1h-4zM682 580h1v1h-1zM691 580h3v1h-3zM788 580h1v1h-1zM838 580h2v1h-2zM863 580h2v1h-2zM1137 580h16v1h-16zM1158 580h2v1h-2zM588 581h3v1h-3zM683 581h1v1h-1zM687 581h4v1h-4zM840 581h2v1h-2zM862 581h1v1h-1zM1153 581h5v1h-5zM387 582h2v1h-2zM587 582h1v1h-1zM684 582h3v1h-3zM842 582h2v1h-2zM861 582h1v1h-1zM383 583h4v1h-4zM388 583h1v1h-1zM585 583h2v1h-2zM844 583h5v1h-5zM857 583h4v1h-4zM4 584h5v1h-5zM17 584h6v1h-6zM377 584h6v1h-6zM389 584h1v1h-1zM524 584h3v1h-3zM584 584h1v1h-1zM849 584h8v1h-8zM9 585h8v1h-8zM23 585h4v1h-4zM371 585h6v1h-6zM389 585h1v1h-1zM522 585h2v1h-2zM527 585h4v1h-4zM583 585h1v1h-1zM27 586h3v1h-3zM348 586h11v1h-11zM369 586h2v1h-2zM390 586h1v1h-1zM520 586h2v1h-2zM531 586h6v1h-6zM581 586h2v1h-2zM30 587h3v1h-3zM347 587h1v1h-1zM359 587h4v1h-4zM366 587h3v1h-3zM390 587h1v1h-1zM518 587h2v1h-2zM537 587h8v1h-8zM580 587h1v1h-1zM33 588h2v1h-2zM212 588h3v1h-3zM347 588h1v1h-1zM363 588h3v1h-3zM391 588h1v1h-1zM516 588h2v1h-2zM545 588h5v1h-5zM579 588h1v1h-1zM35 589h12v1h-12zM210 589h2v1h-2zM215 589h4v1h-4zM346 589h1v1h-1zM391 589h1v1h-1zM514 589h2v1h-2zM550 589h3v1h-3zM577 589h2v1h-2zM47 590h4v1h-4zM209 590h1v1h-1zM219 590h4v1h-4zM346 590h1v1h-1zM392 590h1v1h-1zM512 590h2v1h-2zM553 590h2v1h-2zM576 590h1v1h-1zM51 591h6v1h-6zM207 591h2v1h-2zM223 591h4v1h-4zM345 591h1v1h-1zM392 591h1v1h-1zM510 591h2v1h-2zM555 591h4v1h-4zM575 591h1v1h-1zM57 592h5v1h-5zM205 592h2v1h-2zM227 592h6v1h-6zM241 592h5v1h-5zM345 592h1v1h-1zM393 592h1v1h-1zM508 592h2v1h-2zM559 592h4v1h-4zM573 592h2v1h-2zM62 593h2v1h-2zM75 593h3v1h-3zM204 593h1v1h-1zM233 593h8v1h-8zM246 593h3v1h-3zM344 593h1v1h-1zM393 593h1v1h-1zM404 593h1v1h-1zM507 593h1v1h-1zM563 593h10v1h-10zM64 594h2v1h-2zM73 594h2v1h-2zM78 594h2v1h-2zM203 594h1v1h-1zM249 594h2v1h-2zM343 594h1v1h-1zM394 594h1v1h-1zM402 594h2v1h-2zM405 594h1v1h-1zM505 594h2v1h-2zM66 595h2v1h-2zM70 595h3v1h-3zM80 595h2v1h-2zM202 595h1v1h-1zM251 595h3v1h-3zM343 595h1v1h-1zM394 595h1v1h-1zM401 595h1v1h-1zM406 595h1v1h-1zM504 595h1v1h-1zM68 596h2v1h-2zM82 596h2v1h-2zM164 596h5v1h-5zM202 596h1v1h-1zM254 596h3v1h-3zM342 596h1v1h-1zM395 596h1v1h-1zM399 596h2v1h-2zM406 596h1v1h-1zM503 596h1v1h-1zM84 597h9v1h-9zM162 597h2v1h-2zM169 597h4v1h-4zM201 597h1v1h-1zM257 597h2v1h-2zM342 597h1v1h-1zM395 597h1v1h-1zM397 597h2v1h-2zM407 597h1v1h-1zM501 597h2v1h-2zM93 598h1v1h-1zM160 598h2v1h-2zM173 598h2v1h-2zM200 598h1v1h-1zM259 598h2v1h-2zM341 598h1v1h-1zM396 598h1v1h-1zM408 598h1v1h-1zM497 598h4v1h-4zM94 599h1v1h-1zM158 599h2v1h-2zM175 599h1v1h-1zM199 599h1v1h-1zM261 599h2v1h-2zM341 599h1v1h-1zM409 599h1v1h-1zM492 599h5v1h-5zM95 600h1v1h-1zM156 600h2v1h-2zM176 600h1v1h-1zM198 600h1v1h-1zM263 600h1v1h-1zM332 600h9v1h-9zM410 600h1v1h-1zM491 600h1v1h-1zM96 601h1v1h-1zM155 601h1v1h-1zM177 601h2v1h-2zM198 601h1v1h-1zM264 601h1v1h-1zM331 601h1v1h-1zM410 601h1v1h-1zM491 601h1v1h-1zM97 602h1v1h-1zM154 602h1v1h-1zM179 602h1v1h-1zM197 602h1v1h-1zM265 602h2v1h-2zM275 602h12v1h-12zM331 602h1v1h-1zM411 602h1v1h-1zM490 602h1v1h-1zM98 603h1v1h-1zM154 603h1v1h-1zM180 603h5v1h-5zM193 603h4v1h-4zM267 603h1v1h-1zM271 603h4v1h-4zM287 603h4v1h-4zM330 603h1v1h-1zM412 603h1v1h-1zM490 603h1v1h-1zM99 604h1v1h-1zM153 604h1v1h-1zM185 604h8v1h-8zM268 604h3v1h-3zM291 604h6v1h-6zM316 604h1v1h-1zM329 604h1v1h-1zM413 604h2v1h-2zM489 604h1v1h-1zM100 605h5v1h-5zM152 605h1v1h-1zM297 605h4v1h-4zM315 605h1v1h-1zM317 605h1v1h-1zM329 605h1v1h-1zM415 605h2v1h-2zM489 605h1v1h-1zM105 606h8v1h-8zM151 606h1v1h-1zM301 606h2v1h-2zM313 606h2v1h-2zM318 606h1v1h-1zM328 606h1v1h-1zM417 606h1v1h-1zM488 606h1v1h-1zM113 607h5v1h-5zM150 607h1v1h-1zM303 607h2v1h-2zM312 607h1v1h-1zM319 607h1v1h-1zM327 607h1v1h-1zM418 607h2v1h-2zM488 607h1v1h-1zM118 608h3v1h-3zM150 608h1v1h-1zM305 608h1v1h-1zM311 608h1v1h-1zM320 608h1v1h-1zM327 608h1v1h-1zM420 608h13v1h-13zM487 608h1v1h-1zM121 609h2v1h-2zM149 609h1v1h-1zM306 609h2v1h-2zM309 609h2v1h-2zM321 609h1v1h-1zM326 609h1v1h-1zM433 609h5v1h-5zM487 609h1v1h-1zM123 610h6v1h-6zM137 610h12v1h-12zM308 610h1v1h-1zM322 610h1v1h-1zM325 610h1v1h-1zM438 610h3v1h-3zM486 610h1v1h-1zM129 611h8v1h-8zM323 611h1v1h-1zM325 611h1v1h-1zM441 611h2v1h-2zM486 611h1v1h-1zM324 612h1v1h-1zM443 612h3v1h-3zM485 612h1v1h-1zM446 613h3v1h-3zM459 613h22v1h-22zM485 613h1v1h-1zM449 614h2v1h-2zM455 614h4v1h-4zM481 614h4v1h-4zM451 615h4v1h-4z" fill="#1e90ff"/>
<text x="8" y="550" font-size="10" fill="#000" stroke="#000" stroke-width="0.15" textLength="68" lengthAdjust="spacingAndGlyphs">RSI(14) 55.2308</text>
<rect x="1597" y="539" width="1" height="1" fill="#000"/>
<rect x="1597" y="565" width="1" height="1" fill="#000"/>
<rect x="1597" y="601" width="1" height="1" fill="#000"/>
<rect x="1597" y="628" width="1" height="1" fill="#000"/>
<text x="1600.3" y="548" font-size="10" fill="#000" stroke="#000" stroke-width="0.15" textLength="14.5" lengthAdjust="spacingAndGlyphs">100</text>
<text x="1600" y="569" font-size="10" fill="#000" stroke="#000" stroke-width="0.15" textLength="9.2" lengthAdjust="spacingAndGlyphs">70</text>
<text x="1600" y="605" font-size="10" fill="#000" stroke="#000" stroke-width="0.15" textLength="9.2" lengthAdjust="spacingAndGlyphs">30</text>
<text x="1600.3" y="626" font-size="10" fill="#000" stroke="#000" stroke-width="0.15" textLength="4.8" lengthAdjust="spacingAndGlyphs">0</text>
<rect x="4" y="668" width="1" height="1" fill="#c0c0c0"/>
<rect x="12" y="668" width="1" height="1" fill="#c0c0c0"/>
<rect x="20" y="668" width="1" height="1" fill="#c0c0c0"/>
<rect x="44" y="668" width="1" height="1" fill="#c0c0c0"/>
<rect x="60" y="668" width="1" height="2" fill="#c0c0c0"/>
<rect x="68" y="668" width="1" height="3" fill="#c0c0c0"/>
<rect x="76" y="668" width="1" height="3" fill="#c0c0c0"/>
<rect x="84" y="668" width="1" height="4" fill="#c0c0c0"/>
<rect x="92" y="668" width="1" height="5" fill="#c0c0c0"/>
<rect x="100" y="668" width="1" height="6" fill="#c0c0c0"/>
<rect x="108" y="668" width="1" height="7" fill="#c0c0c0"/>
<rect x="116" y="668" width="1" height="8" fill="#c0c0c0"/>
<rect x="124" y="668" width="1" height="10" fill="#c0c0c0"/>
<rect x="132" y="668" width="1" height="11" fill="#c0c0c0"/>
<rect x="140" y="668" width="1" height="11" fill="#c0c0c0"/>
<rect x="148" y="668" width="1" height="12" fill="#c0c0c0"/>
<rect x="156" y="668" width="1" height="12" fill="#c0c0c0"/>
<rect x="164" y="668" width="1" height="11" fill="#c0c0c0"/>
<rect x="172" y="668" width="1" height="11" fill="#c0c0c0"/>
<rect x="180" y="668" width="1" height="11" fill="#c0c0c0"/>
<rect x="188" y="668" width="1" height="12" fill="#c0c0c0"/>
<rect x="196" y="668" width="1" height="12" fill="#c0c0c0"/>
<rect x="204" y="668" width="1" height="12" fill="#c0c0c0"/>
<rect x="212" y="668" width="1" height="11" fill="#c0c0c0"/>
<rect x="220" y="668" width="1" height="9" fill="#c0c0c0"/>
<rect x="228" y="668" width="1" height="9" fill="#c0c0c0"/>
<rect x="236" y="668" width="1" height="8" fill="#c0c0c0"/>
<rect x="244" y="668" width="1" height="7" fill="#c0c0c0"/>
<rect x="252" y="668" width="1" height="8" fill="#c0c0c0"/>
<rect x="260" y="668" width="1" height="9" fill="#c0c0c0"/>
<rect x="268" y="668" width="1" height="10" fill="#c0c0c0"/>
<rect x="276" y="668" width="1" height="11" fill="#c0c0c0"/>
<rect x="284" y="668" width="1" height="11" fill="#c0c0c0"/>
<rect x="292" y="668" width="1" height="12" fill="#c0c0c0"/>
<rect x="300" y="668" width="1" height="12" fill="#c0c0c0"/>
<rect x="308" y="668" width="1" height="13" fill="#c0c0c0"/>
<rect x="316" y="668" width="1" height="14" fill="#c0c0c0"/>
<rect x="324" y="668" width="1" height="14" fill="#c0c0c0"/>
<rect x="332" y="668" width="1" height="14" fill="#c0c0c0"/>
<rect x="340" y="668" width="1" height="14" fill="#c0c0c0"/>
<rect x="348" y="668" width="1" height="12" fill="#c0c0c0"/>
<rect x="356" y="668" width="1" height="11" fill="#c0c0c0"/>
<rect x="364" y="668" width="1" height="10" fill="#c0c0c0"/>
<rect x="372" y="668" width="1" height="9" fill="#c0c0c0"/>
<rect x="380" y="668" width="1" height="7" fill="#c0c0c0"/>
<rect x="388" y="668" width="1" height="6" fill="#c0c0c0"/>
<rect x="396" y="668" width="1" height="8" fill="#c0c0c0"/>
<rect x="404" y="668" width="1" height="10" fill="#c0c0c0"/>
<rect x="412" y="668" width="1" height="14" fill="#c0c0c0"/>
<rect x="420" y="668" width="1" height="19" fill="#c0c0c0"/>
<rect x="428" y="668" width="1" height="24" fill="#c0c0c0"/>
<rect x="436" y="668" width="1" height="27" fill="#c0c0c0"/>
<rect x="444" y="668" width="1" height="32" fill="#c0c0c0"/>
<rect x="452" y="668" width="1" height="39" fill="#c0c0c0"/>
<rect x="460" y="668" width="1" height="44" fill="#c0c0c0"/>
<rect x="468" y="668" width="1" height="47" fill="#c0c0c0"/>
<rect x="476" y="668" width="1" height="49" fill="#c0c0c0"/>
<rect x="484" y="668" width="1" height="50" fill="#c0c0c0"/>
<rect x="492" y="668" width="1" height="49" fill="#c0c0c0"/>
<rect x="500" y="668" width="1" height="47" fill="#c0c0c0"/>
<rect x="508" y="668" width="1" height="43" fill="#c0c0c0"/>
<rect x="516" y="668" width="1" height="37" fill="#c0c0c0"/>
<rect x="524" y="668" width="1" height="31" fill="#c0c0c0"/>
<rect x="532" y="668" width="1" height="27" fill="#c0c0c0"/>
<rect x="540" y="668" width="1" height="25" fill="#c0c0c0"/>
<rect x="548" y="668" width="1" height="22" fill="#c0c0c0"/>
<rect x="556" y="668" width="1" height="22" fill="#c0c0c0"/>
<rect x="564" y="668" width="1" height="21" fill="#c0c0c0"/>
<rect x="572" y="668" width="1" height="21" fill="#c0c0c0"/>
<rect x="580" y="668" width="1" height="19" fill="#c0c0c0"/>
<rect x="588" y="668" width="1" height="14" fill="#c0c0c0"/>
<rect x="596" y="668" width="1" height="11" fill="#c0c0c0"/>
<rect x="604" y="668" width="1" height="6" fill="#c0c0c0"/>
<rect x="612" y="668" width="1" height="2" fill="#c0c0c0"/>
<rect x="620" y="667" width="1" height="2" fill="#c0c0c0"/>
<rect x="628" y="664" width="1" height="5" fill="#c0c0c0"/>
<rect x="636" y="661" width="1" height="8" fill="#c0c0c0"/>
<rect x="644" y="660" width="1" height="9" fill="#c0c0c0"/>
<rect x="652" y="660" width="1" height="9" fill="#c0c0c0"/>
<rect x="660" y="659" width="1" height="10" fill="#c0c0c0"/>
<rect x="668" y="659" width="1" height="10" fill="#c0c0c0"/>
<rect x="676" y="658" width="1" height="11" fill="#c0c0c0"/>
<rect x="684" y="659" width="1" height="10" fill="#c0c0c0"/>
<rect x="692" y="660" width="1" height="9" fill="#c0c0c0"/>
<rect x="700" y="659" width="1" height="10" fill="#c0c0c0"/>
<rect x="708" y="658" width="1" height="11" fill="#c0c0c0"/>
<rect x="716" y="657" width="1" height="12" fill="#c0c0c0"/>
<rect x="724" y="657" width="1" height="12" fill="#c0c0c0"/>
<rect x="732" y="655" width="1" height="14" fill="#c0c0c0"/>
<rect x="740" y="653" width="1" height="16" fill="#c0c0c0"/>
<rect x="748" y="652" width="1" height="17" fill="#c0c0c0"/>
<rect x="756" y="654" width="1" height="15" fill="#c0c0c0"/>
<rect x="764" y="655" width="1" height="14" fill="#c0c0c0"/>
<rect x="772" y="655" width="1" height="14" fill="#c0c0c0"/>
<rect x="780" y="655" width="1" height="14" fill="#c0c0c0"/>
<rect x="788" y="656" width="1" height="13" fill="#c0c0c0"/>
<rect x="796" y="656" width="1" height="13" fill="#c0c0c0"/>
<rect x="804" y="655" width="1" height="14" fill="#c0c0c0"/>
<rect x="812" y="654" width="1" height="15" fill="#c0c0c0"/>
<rect x="820" y="655" width="1" height="14" fill="#c0c0c0"/>
<rect x="828" y="655" width="1" height="14" fill="#c0c0c0"/>
<rect x="836" y="656" width="1" height="13" fill="#c0c0c0"/>
<rect x="844" y="658" width="1" height="11" fill="#c0c0c0"/>
<rect x="852" y="660" width="1" height="9" fill="#c0c0c0"/>
<rect x="860" y="661" width="1" height="8" fill="#c0c0c0"/>
<rect x="868" y="660" width="1" height="9" fill="#c0c0c0"/>
<rect x="876" y="659" width="1" height="10" fill="#c0c0c0"/>
<rect x="884" y="657" width="1" height="12" fill="#c0c0c0"/>
<rect x="892" y="657" width="1" height="12" fill="#c0c0c0"/>
<rect x="900" y="658" width="1" height="11" fill="#c0c0c0"/>
<rect x="908" y="658" width="1" height="11" fill="#c0c0c0"/>
<rect x="916" y="658" width="1" height="11" fill="#c0c0c0"/>
<rect x="924" y="657" width="1" height="12" fill="#c0c0c0"/>
<rect x="932" y="656" width="1" height="13" fill="#c0c0c0"/>
<rect x="940" y="655" width="1" height="14" fill="#c0c0c0"/>
<rect x="948" y="655" width="1" height="14" fill="#c0c0c0"/>
<rect x="956" y="654" width="1" height="15" fill="#c0c0c0"/>
<rect x="964" y="652" width="1" height="17" fill="#c0c0c0"/>
<rect x="972" y="649" width="1" height="20" fill="#c0c0c0"/>
<rect x="980" y="645" width="1" height="24" fill="#c0c0c0"/>
<rect x="988" y="643" width="1" height="26" fill="#c0c0c0"/>
<rect x="996" y="640" width="1" height="29" fill="#c0c0c0"/>
<rect x="1004" y="639" width="1" height="30" fill="#c0c0c0"/>
<rect x="1012" y="638" width="1" height="31" fill="#c0c0c0"/>
<rect x="1020" y="638" width="1" height="31" fill="#c0c0c0"/>
<rect x="1028" y="638" width="1" height="31" fill="#c0c0c0"/>
<rect x="1036" y="640" width="1" height="29" fill="#c0c0c0"/>
<rect x="1044" y="642" width="1" height="27" fill="#c0c0c0"/>
<rect x="1052" y="645" width="1" height="24" fill="#c0c0c0"/>
<rect x="1060" y="647" width="1" height="22" fill="#c0c0c0"/>
<rect x="1068" y="648" width="1" height="21" fill="#c0c0c0"/>
<rect x="1076" y="649" width="1" height="20" fill="#c0c0c0"/>
<rect x="1084" y="651" width="1" height="18" fill="#c0c0c0"/>
<rect x="1092" y="653" width="1" height="16" fill="#c0c0c0"/>
<rect x="1100" y="654" width="1" height="15" fill="#c0c0c0"/>
<rect x="1108" y="655" width="1" height="14" fill="#c0c0c0"/>
<rect x="1116" y="654" width="1" height="15" fill="#c0c0c0"/>
<rect x="1124" y="655" width="1" height="14" fill="#c0c0c0"/>
<rect x="1132" y="657" width="1" height="12" fill="#c0c0c0"/>
<rect x="1140" y="658" width="1" height="11" fill="#c0c0c0"/>
<rect x="1148" y="659" width="1" height="10" fill="#c0c0c0"/>
<rect x="1156" y="660" width="1" height="9" fill="#c0c0c0"/>
<rect x="1164" y="660" width="1" height="9" fill="#c0c0c0"/>
<rect x="1172" y="660" width="1" height="9" fill="#c0c0c0"/>
<rect x="1180" y="660" width="1" height="9" fill="#c0c0c0"/>
<rect x="1188" y="660" width="1" height="9" fill="#c0c0c0"/>
<rect x="1196" y="660" width="1" height="9" fill="#c0c0c0"/>
<rect x="1204" y="660" width="1" height="9" fill="#c0c0c0"/>
<rect x="1212" y="660" width="1" height="9" fill="#c0c0c0"/>
<rect x="1220" y="659" width="1" height="10" fill="#c0c0c0"/>
<rect x="1228" y="660" width="1" height="9" fill="#c0c0c0"/>
<rect x="1236" y="659" width="1" height="10" fill="#c0c0c0"/>
<rect x="1244" y="660" width="1" height="9" fill="#c0c0c0"/>
<rect x="1252" y="660" width="1" height="9" fill="#c0c0c0"/>
<rect x="1260" y="661" width="1" height="8" fill="#c0c0c0"/>
<path d="M1043 639h2v1h-2zM1048 639h3v1h-3zM1054 639h3v1h-3zM1042 640h1v1h-1zM1060 640h3v1h-3zM1036 641h3v1h-3zM1066 641h3v1h-3zM1072 641h1v1h-1zM1025 642h2v1h-2zM1030 642h3v1h-3zM1073 642h2v1h-2zM1078 642h3v1h-3zM1019 643h2v1h-2zM1024 643h1v1h-1zM1084 643h3v1h-3zM1018 644h1v1h-1zM1090 644h1v1h-1zM1012 645h3v1h-3zM1091 645h2v1h-2zM1007 646h2v1h-2zM1096 646h3v1h-3zM1006 647h1v1h-1zM1102 647h3v1h-3zM1000 648h3v1h-3zM1108 648h3v1h-3zM995 649h2v1h-2zM1114 649h1v1h-1zM994 650h1v1h-1zM1115 650h2v1h-2zM1120 650h1v1h-1zM988 651h3v1h-3zM1121 651h2v1h-2zM1126 651h2v1h-2zM982 652h3v1h-3zM1128 652h1v1h-1zM1132 652h3v1h-3zM977 653h2v1h-2zM1138 653h3v1h-3zM772 654h3v1h-3zM778 654h3v1h-3zM784 654h3v1h-3zM790 654h3v1h-3zM796 654h3v1h-3zM802 654h3v1h-3zM808 654h3v1h-3zM814 654h3v1h-3zM976 654h1v1h-1zM1144 654h3v1h-3zM1150 654h2v1h-2zM748 655h3v1h-3zM754 655h3v1h-3zM760 655h3v1h-3zM766 655h3v1h-3zM820 655h3v1h-3zM826 655h3v1h-3zM832 655h3v1h-3zM838 655h3v1h-3zM844 655h3v1h-3zM970 655h3v1h-3zM1152 655h1v1h-1zM1156 655h3v1h-3zM743 656h2v1h-2zM850 656h3v1h-3zM856 656h3v1h-3zM940 656h3v1h-3zM946 656h3v1h-3zM952 656h3v1h-3zM958 656h3v1h-3zM964 656h3v1h-3zM1162 656h3v1h-3zM736 657h3v1h-3zM742 657h1v1h-1zM862 657h3v1h-3zM868 657h1v1h-1zM936 657h1v1h-1zM1168 657h3v1h-3zM1174 657h3v1h-3zM1180 657h1v1h-1zM700 658h3v1h-3zM706 658h3v1h-3zM712 658h3v1h-3zM718 658h3v1h-3zM724 658h3v1h-3zM730 658h3v1h-3zM869 658h2v1h-2zM874 658h3v1h-3zM880 658h3v1h-3zM886 658h3v1h-3zM928 658h3v1h-3zM934 658h2v1h-2zM1181 658h2v1h-2zM1186 658h3v1h-3zM1192 658h3v1h-3zM1198 658h3v1h-3zM1234 658h3v1h-3zM1240 658h3v1h-3zM1246 658h3v1h-3zM1252 658h3v1h-3zM1258 658h2v1h-2zM688 659h3v1h-3zM694 659h3v1h-3zM892 659h3v1h-3zM898 659h3v1h-3zM904 659h3v1h-3zM910 659h3v1h-3zM916 659h3v1h-3zM922 659h3v1h-3zM1204 659h3v1h-3zM1210 659h3v1h-3zM1216 659h3v1h-3zM1222 659h3v1h-3zM1228 659h3v1h-3zM682 660h3v1h-3zM676 661h3v1h-3zM671 662h2v1h-2zM670 663h1v1h-1zM4 664h3v1h-3zM665 664h2v1h-2zM10 665h3v1h-3zM16 665h3v1h-3zM22 665h3v1h-3zM664 665h1v1h-1zM28 666h3v1h-3zM659 666h2v1h-2zM34 667h3v1h-3zM40 667h3v1h-3zM46 667h3v1h-3zM658 667h1v1h-1zM52 668h3v1h-3zM58 668h3v1h-3zM64 668h3v1h-3zM70 668h3v1h-3zM652 668h3v1h-3zM76 669h3v1h-3zM82 669h3v1h-3zM88 669h3v1h-3zM94 669h1v1h-1zM648 669h1v1h-1zM95 670h2v1h-2zM100 670h3v1h-3zM646 670h2v1h-2zM106 671h3v1h-3zM112 671h1v1h-1zM113 672h2v1h-2zM118 672h2v1h-2zM641 672h2v1h-2zM120 673h1v1h-1zM124 673h2v1h-2zM640 673h1v1h-1zM126 674h1v1h-1zM130 674h3v1h-3zM635 674h2v1h-2zM136 675h3v1h-3zM142 675h3v1h-3zM634 675h1v1h-1zM148 676h3v1h-3zM154 676h1v1h-1zM262 676h3v1h-3zM268 676h3v1h-3zM274 676h3v1h-3zM280 676h3v1h-3zM286 676h3v1h-3zM292 676h3v1h-3zM298 676h3v1h-3zM630 676h1v1h-1zM155 677h2v1h-2zM160 677h3v1h-3zM244 677h3v1h-3zM250 677h3v1h-3zM256 677h3v1h-3zM304 677h3v1h-3zM310 677h3v1h-3zM628 677h2v1h-2zM166 678h3v1h-3zM172 678h3v1h-3zM178 678h2v1h-2zM221 678h2v1h-2zM226 678h3v1h-3zM232 678h3v1h-3zM238 678h3v1h-3zM316 678h3v1h-3zM322 678h3v1h-3zM388 678h3v1h-3zM394 678h3v1h-3zM400 678h3v1h-3zM406 678h3v1h-3zM412 678h3v1h-3zM418 678h3v1h-3zM424 678h3v1h-3zM180 679h1v1h-1zM184 679h3v1h-3zM190 679h3v1h-3zM196 679h3v1h-3zM202 679h3v1h-3zM208 679h3v1h-3zM214 679h3v1h-3zM220 679h1v1h-1zM328 679h3v1h-3zM334 679h3v1h-3zM340 679h1v1h-1zM383 679h2v1h-2zM624 679h1v1h-1zM341 680h2v1h-2zM346 680h3v1h-3zM352 680h3v1h-3zM358 680h3v1h-3zM364 680h3v1h-3zM370 680h3v1h-3zM376 680h3v1h-3zM382 680h1v1h-1zM430 680h2v1h-2zM622 680h2v1h-2zM432 681h1v1h-1zM436 682h3v1h-3zM616 682h3v1h-3zM442 683h1v1h-1zM611 683h2v1h-2zM443 684h2v1h-2zM610 684h1v1h-1zM604 685h3v1h-3zM448 686h2v1h-2zM450 687h1v1h-1zM598 687h3v1h-3zM454 689h2v1h-2zM592 689h3v1h-3zM456 690h1v1h-1zM587 690h2v1h-2zM586 691h1v1h-1zM460 692h2v1h-2zM580 692h3v1h-3zM462 693h1v1h-1zM576 694h1v1h-1zM466 695h2v1h-2zM574 695h2v1h-2zM468 696h1v1h-1zM568 697h3v1h-3zM472 698h2v1h-2zM563 698h2v1h-2zM474 699h1v1h-1zM562 699h1v1h-1zM558 700h1v1h-1zM478 701h2v1h-2zM556 701h2v1h-2zM480 702h1v1h-1zM552 703h1v1h-1zM484 704h2v1h-2zM550 704h2v1h-2zM486 705h1v1h-1zM544 706h3v1h-3zM490 707h2v1h-2zM539 707h2v1h-2zM492 708h1v1h-1zM538 708h1v1h-1zM496 709h3v1h-3zM534 709h1v1h-1zM502 710h1v1h-1zM532 710h2v1h-2zM503 711h2v1h-2zM521 711h2v1h-2zM526 711h3v1h-3zM508 712h3v1h-3zM514 712h3v1h-3zM520 712h1v1h-1z" fill="#ff0000"/>
<text x="8" y="644" font-size="10" fill="#000" stroke="#000" stroke-width="0.15" textLength="148" lengthAdjust="spacingAndGlyphs">MACD(12,26,9) 0.003690 0.004186</text>
<rect x="1597" y="633" width="1" height="1" fill="#000"/>
<rect x="1597" y="668" width="1" height="1" fill="#000"/>
<rect x="1597" y="722" width="1" height="1" fill="#000"/>
<text x="1600" y="642" font-size="10" fill="#000" stroke="#000" stroke-width="0.15" textLength="38" lengthAdjust="spacingAndGlyphs">0.015741</text>
<text x="1600" y="672" font-size="10" fill="#000" stroke="#000" stroke-width="0.15" textLength="17.8" lengthAdjust="spacingAndGlyphs">0.00</text>
<text x="1600" y="720" font-size="10" fill="#000" stroke="#000" stroke-width="0.15" textLength="41.5" lengthAdjust="spacingAndGlyphs">-0.024412</text>
<rect x="4" y="724" width="1" height="3" fill="#000"/>
<text transform="translate(3.5,736) scale(0.905,1)" font-size="10" fill="#000" stroke="#000" stroke-width="0.15">13 Jan 2020</text>
<rect x="68" y="724" width="1" height="3" fill="#000"/>
<text transform="translate(67.5,736) scale(0.905,1)" font-size="10" fill="#000" stroke="#000" stroke-width="0.15">22 Jan 2020</text>
<rect x="132" y="724" width="1" height="3" fill="#000"/>
<text transform="translate(131.5,736) scale(0.905,1)" font-size="10" fill="#000" stroke="#000" stroke-width="0.15">31 Jan 2020</text>
<rect x="196" y="724" width="1" height="3" fill="#000"/>
<text transform="translate(195.5,736) scale(0.905,1)" font-size="10" fill="#000" stroke="#000" stroke-width="0.15">10 Feb 2020</text>
<rect x="260" y="724" width="1" height="3" fill="#000"/>
<text transform="translate(259.5,736) scale(0.905,1)" font-size="10" fill="#000" stroke="#000" stroke-width="0.15">19 Feb 2020</text>
<rect x="324" y="724" width="1" height="3" fill="#000"/>
<text transform="translate(323.5,736) scale(0.905,1)" font-size="10" fill="#000" stroke="#000" stroke-width="0.15">28 Feb 2020</text>
<rect x="388" y="724" width="1" height="3" fill="#000"/>
<text transform="translate(387.5,736) scale(0.905,1)" font-size="10" fill="#000" stroke="#000" stroke-width="0.15">9 Mar 2020</text>
<rect x="452" y="724" width="1" height="3" fill="#000"/>
<text transform="translate(451.5,736) scale(0.905,1)" font-size="10" fill="#000" stroke="#000" stroke-width="0.15">18 Mar 2020</text>
<rect x="516" y="724" width="1" height="3" fill="#000"/>
<text transform="translate(515.5,736) scale(0.905,1)" font-size="10" fill="#000" stroke="#000" stroke-width="0.15">27 Mar 2020</text>
<rect x="580" y="724" width="1" height="3" fill="#000"/>
<text transform="translate(579.5,736) scale(0.905,1)" font-size="10" fill="#000" stroke="#000" stroke-width="0.15">6 Apr 2020</text>
<rect x="644" y="724" width="1" height="3" fill="#000"/>
<text transform="translate(643.5,736) scale(0.905,1)" font-size="10" fill="#000" stroke="#000" stroke-width="0.15">15 Apr 2020</text>
<rect x="708" y="724" width="1" height="3" fill="#000"/>
<text transform="translate(707.5,736) scale(0.905,1)" font-size="10" fill="#000" stroke="#000" stroke-width="0.15">24 Apr 2020</text>
<rect x="772" y="724" width="1" height="3" fill="#000"/>
<text transform="translate(771.5,736) scale(0.905,1)" font-size="10" fill="#000" stroke="#000" stroke-width="0.15">4 May 2020</text>
<rect x="836" y="724" width="1" height="3" fill="#000"/>
<text transform="translate(835.5,736) scale(0.905,1)" font-size="10" fill="#000" stroke="#000" stroke-width="0.15">13 May 2020</text>
<rect x="900" y="724" width="1" height="3" fill="#000"/>
<text transform="translate(899.5,736) scale(0.905,1)" font-size="10" fill="#000" stroke="#000" stroke-width="0.15">22 May 2020</text>
<rect x="964" y="724" width="1" height="3" fill="#000"/>
<text transform="translate(963.5,736) scale(0.905,1)" font-size="10" fill="#000" stroke="#000" stroke-width="0.15">1 Jun 2020</text>
<rect x="1028" y="724" width="1" height="3" fill="#000"/>
<text transform="translate(1027.5,736) scale(0.905,1)" font-size="10" fill="#000" stroke="#000" stroke-width="0.15">10 Jun 2020</text>
<rect x="1092" y="724" width="1" height="3" fill="#000"/>
<text transform="translate(1091.5,736) scale(0.905,1)" font-size="10" fill="#000" stroke="#000" stroke-width="0.15">19 Jun 2020</text>
<rect x="1156" y="724" width="1" height="3" fill="#000"/>
<text transform="translate(1155.5,736) scale(0.905,1)" font-size="10" fill="#000" stroke="#000" stroke-width="0.15">29 Jun 2020</text>
<rect x="1220" y="724" width="1" height="3" fill="#000"/>
<text transform="translate(1219.5,736) scale(0.905,1)" font-size="10" fill="#000" stroke="#000" stroke-width="0.15">8 Jul 2020</text>
<rect x="0" y="744" width="1637" height="1" fill="#e8e8e8"/>
<rect x="0" y="745" width="1637" height="1" fill="#ffffff"/>
<rect x="0" y="746" width="1637" height="1" fill="#000"/>
<rect x="0" y="747" width="1637" height="1" fill="#ffffff"/>
<rect x="0" y="748" width="1637" height="17" fill="#f0f0f0"/>
<rect x="1" y="747" width="1" height="18" fill="#ffffff"/>
<rect x="0" y="747" width="1" height="18" fill="#555555"/>
<rect x="0" y="765" width="1637" height="2" fill="#ffffff"/>
<rect x="0" y="767" width="1637" height="3" fill="#f0f0f0"/>
<rect x="0" y="770" width="1637" height="1" fill="#a0a0a0"/>
<rect x="0" y="771" width="1637" height="2" fill="#ffffff"/>
<rect x="209" y="745" width="104" height="20" fill="#ffffff"/>
<rect x="209" y="746" width="1" height="19" fill="#000"/>
<rect x="312" y="746" width="1" height="19" fill="#000"/>
<rect x="209" y="764" width="104" height="1" fill="#000"/>
<rect x="313" y="747" width="1" height="19" fill="#a0a0a0"/>
<rect x="210" y="765" width="104" height="1" fill="#a0a0a0"/>
<rect x="210" y="744" width="102" height="1" fill="#e6e6e6"/>
<text x="17.5" y="761" font-size="12.5" fill="#828282" textLength="79.5" lengthAdjust="spacingAndGlyphs">EURUSD,Daily</text>
<text x="119" y="761" font-size="12.5" fill="#828282" textLength="79.5" lengthAdjust="spacingAndGlyphs">USDCHF,Daily</text>
<text x="220" y="761" font-size="12.5" fill="#000" textLength="81.8" lengthAdjust="spacingAndGlyphs">AUDUSD,Daily</text>
<text x="324" y="761" font-size="12.5" fill="#828282" textLength="81.4" lengthAdjust="spacingAndGlyphs">USDCAD,Daily</text>
<text x="427.3" y="761" font-size="12.5" fill="#828282" textLength="82.7" lengthAdjust="spacingAndGlyphs">USDCNH,Daily</text>
<text x="532" y="761" font-size="12.5" fill="#828282" textLength="77.6" lengthAdjust="spacingAndGlyphs">EURUSD,M15</text>
<text x="631.8" y="761" font-size="12.5" fill="#828282" textLength="78.0" lengthAdjust="spacingAndGlyphs">GBPUSD,M30</text>
<text x="731.7" y="761" font-size="12.5" fill="#828282" textLength="81.3" lengthAdjust="spacingAndGlyphs">XAUUSD,Daily</text>
<text x="835.9" y="761" font-size="12.5" fill="#828282" textLength="49.6" lengthAdjust="spacingAndGlyphs">HK50,H1</text>
<text x="908" y="761" font-size="12.5" fill="#828282" textLength="57" lengthAdjust="spacingAndGlyphs">UK100,H1</text>
<text x="988" y="761" font-size="12.5" fill="#828282" textLength="57" lengthAdjust="spacingAndGlyphs">UK100,H1</text>
<text x="1068" y="761" font-size="12.5" fill="#828282" textLength="56.5" lengthAdjust="spacingAndGlyphs">GER30,H1</text>
<text x="1147" y="761" font-size="12.5" fill="#828282" textLength="54.6" lengthAdjust="spacingAndGlyphs">FRA40,H1</text>
<text x="1223" y="761" font-size="12.5" fill="#828282" textLength="62.8" lengthAdjust="spacingAndGlyphs">USOil,Daily</text>
<text x="1307.3" y="761" font-size="12.5" fill="#828282" textLength="62.6" lengthAdjust="spacingAndGlyphs">USDJPY,H1</text>
<text x="1392.3" y="761" font-size="12.5" fill="#828282" textLength="56.3" lengthAdjust="spacingAndGlyphs">DJ30,M15</text>
<rect x="109" y="749" width="1" height="14" fill="#6e6e6e"/>
<rect x="417" y="749" width="1" height="14" fill="#6e6e6e"/>
<rect x="522" y="749" width="1" height="14" fill="#6e6e6e"/>
<rect x="621" y="749" width="1" height="14" fill="#6e6e6e"/>
<rect x="721" y="749" width="1" height="14" fill="#6e6e6e"/>
<rect x="825" y="749" width="1" height="14" fill="#6e6e6e"/>
<rect x="897" y="749" width="1" height="14" fill="#6e6e6e"/>
<rect x="977" y="749" width="1" height="14" fill="#6e6e6e"/>
<rect x="1057" y="749" width="1" height="14" fill="#6e6e6e"/>
<rect x="1137" y="749" width="1" height="14" fill="#6e6e6e"/>
<rect x="1214" y="749" width="1" height="14" fill="#6e6e6e"/>
<rect x="1297" y="749" width="1" height="14" fill="#6e6e6e"/>
<rect x="1381" y="749" width="1" height="14" fill="#6e6e6e"/>
<rect x="1461" y="749" width="1" height="14" fill="#6e6e6e"/>
<rect x="1615" y="752" width="1" height="7" fill="#a0a0a0"/>
<rect x="1631" y="752" width="1" height="7" fill="#a0a0a0"/>
<rect x="1614" y="753" width="1" height="5" fill="#a0a0a0"/>
<rect x="1632" y="753" width="1" height="5" fill="#a0a0a0"/>
<rect x="1613" y="754" width="1" height="3" fill="#a0a0a0"/>
<rect x="1633" y="754" width="1" height="3" fill="#a0a0a0"/>
<rect x="1612" y="755" width="1" height="1" fill="#a0a0a0"/>
<rect x="1634" y="755" width="1" height="1" fill="#a0a0a0"/></svg>
</body></html>
